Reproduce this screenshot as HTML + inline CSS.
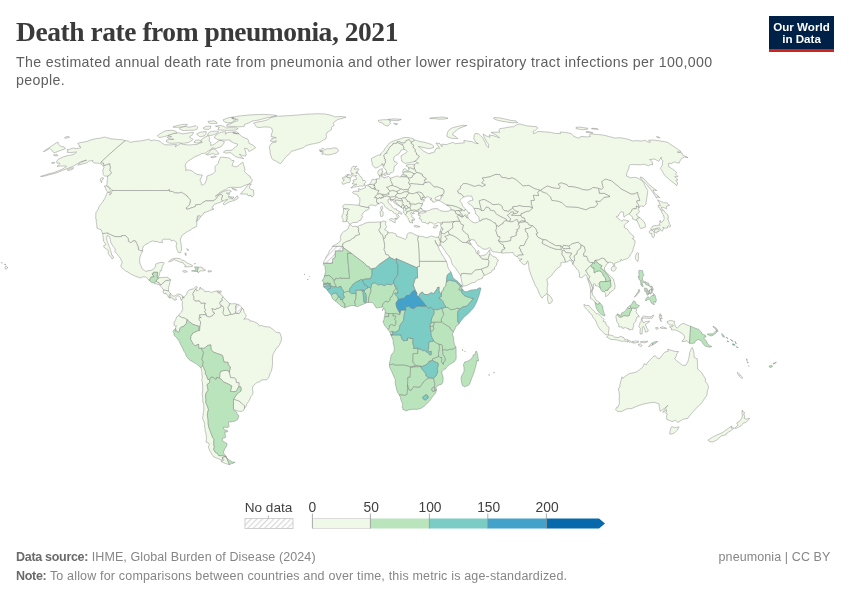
<!DOCTYPE html>
<html lang="en"><head><meta charset="utf-8"><title>Death rate from pneumonia, 2021</title>
<style>
html,body{margin:0;padding:0;background:#fff;}
body{width:850px;height:600px;position:relative;overflow:hidden;font-family:"Liberation Sans",Arial,sans-serif;color:#5b5b5b;}
#title{position:absolute;left:16px;top:17.5px;font-family:"Liberation Serif","DejaVu Serif",serif;font-weight:bold;font-size:27.5px;line-height:28px;color:#3a3a3a;white-space:nowrap;letter-spacing:-0.45px;}
#sub{position:absolute;left:16px;top:52.5px;font-size:14.2px;line-height:18.3px;color:#5f5f5f;white-space:nowrap;letter-spacing:0.369px;}
#logo{position:absolute;left:769px;top:16px;width:65px;height:36px;background:#002147;border-bottom:3px solid #ce261e;box-sizing:border-box;color:#fff;font-weight:bold;font-size:11.6px;line-height:12px;text-align:center;padding-top:4.6px;}
#map{position:absolute;left:0;top:0;}
.leg{position:absolute;font-size:13.8px;color:#3f3f3f;line-height:16px;white-space:nowrap;top:499.9px;text-align:center;width:60px;}
.foot{position:absolute;left:16px;font-size:12.5px;line-height:16px;color:#868686;white-space:nowrap;letter-spacing:0.1px;}
.foot b{color:#6a6a6a;letter-spacing:-0.3px;}
</style></head><body>
<svg id="map" width="850" height="600" viewBox="0 0 850 600">
<defs><pattern id="hatch" patternUnits="userSpaceOnUse" width="4" height="4" patternTransform="rotate(45)"><rect width="4" height="4" fill="#fff"/><line x1="0.5" y1="0" x2="0.5" y2="4" stroke="#d9d9d9" stroke-width="1.4"/></pattern></defs>
<g stroke="#6e6e6e" stroke-width="0.4" stroke-linejoin="round">
<g fill="#f0f9e8">
<path d="M332.6,246.4 333.3,245.7 335.3,244.7 337.4,243.6 339.7,241.8 340.9,239.2 340.4,238.6 340.5,236.3 341.7,233.6 343.5,231.8 345.5,230.7 347.3,229.7 348.5,227.6 349.4,224.9 350.7,224.7 352.6,226.5 355.7,226.2 357.5,226.8 358.6,228.3 358.5,231.5 359.6,233.6 359.4,234.7 357.5,235.2 355.6,235.7 354.3,237.8 352.3,238.6 350.0,240.5 348.3,241.0 346.6,241.5 344.7,242.6 342.8,243.6 342.8,246.4 340.2,246.4 337.7,246.4 335.1,246.4Z"/>
<path d="M446.4,261.3 447.2,263.9 447.9,267.1 449.2,269.7 450.9,271.8 449.6,273.0 448.3,274.3 447.3,275.1 446.9,277.3 446.6,279.5 446.4,281.7 446.1,283.8 445.8,285.8 443.5,288.2 443.4,290.3 441.8,291.4 441.4,294.3 440.9,294.3 439.0,291.1 439.0,289.1 439.1,287.1 437.2,287.7 437.3,288.5 435.5,291.0 433.7,293.6 430.9,292.7 429.3,293.9 427.2,294.6 424.0,294.3 422.3,291.9 420.0,293.5 418.5,296.6 416.8,295.6 417.0,293.2 415.3,290.5 414.5,288.2 413.6,285.8 412.9,285.9 414.0,282.7 414.2,281.9 414.8,279.9 415.3,277.9 417.6,277.9 417.5,274.6 417.4,271.2 417.2,267.9 417.2,266.6 419.5,266.6 419.4,263.9 419.3,261.3 422.7,261.3 426.1,261.3 429.5,261.3 432.9,261.3 436.2,261.3 439.6,261.3 443.0,261.3Z"/>
<path d="M440.4,241.5 440.0,243.0 439.8,245.2 439.4,246.2 437.1,244.7 436.1,242.8 435.1,240.3 435.6,242.8 437.7,245.7 438.7,248.1 439.8,250.5 440.6,252.1 442.4,255.0 443.2,256.3 444.8,258.8 446.4,261.3 443.0,261.3 439.6,261.3 436.2,261.3 432.9,261.3 429.5,261.3 426.1,261.3 422.7,261.3 419.3,261.3 419.1,257.5 419.0,253.7 418.8,249.9 418.6,246.1 418.3,242.3 417.5,239.7 418.3,236.0 420.6,236.3 422.8,236.5 424.8,237.2 426.7,237.8 428.9,237.0 429.9,236.4 431.2,236.0 433.0,236.3 434.2,236.9 435.8,237.3 437.6,237.3 438.5,236.8 439.5,239.2Z"/>
<path d="M440.7,241.5 440.4,241.5 439.5,239.2 438.5,236.8 439.0,236.0 439.5,234.8 439.7,232.8 439.9,232.0 441.1,231.6 441.5,233.0 441.1,233.9 441.3,236.3 441.0,238.9Z"/>
<path d="M460.8,276.1 459.5,273.7 457.7,271.3 456.4,269.3 455.0,267.4 453.0,265.3 451.6,262.6 450.8,259.2 448.7,255.9 446.6,253.4 444.8,250.5 442.5,247.3 441.5,245.5 440.1,245.3 440.5,244.2 440.7,241.5 443.2,242.3 446.1,240.2 447.1,238.9 444.6,236.3 446.8,235.6 448.9,234.9 449.3,234.5 452.0,235.1 454.1,236.2 456.1,237.3 459.3,239.8 462.5,242.3 464.6,242.4 466.7,242.6 468.7,242.8 469.4,244.1 471.0,244.0 471.3,244.4 472.1,246.3 474.1,248.1 475.6,250.2 475.9,252.1 477.5,254.0 478.4,254.4 479.4,255.4 482.0,258.8 485.0,259.1 488.0,259.5 489.2,261.3 488.7,263.9 488.1,266.6 485.9,267.5 483.7,268.3 481.5,269.2 478.2,269.7 474.9,270.3 473.2,272.2 471.5,274.2 468.9,274.0 466.4,273.7 463.8,273.4 461.6,273.7Z"/>
<path d="M484.4,275.4 482.5,276.9 482.6,278.2 480.5,279.0 478.0,279.8 476.4,281.1 474.7,282.4 472.2,282.7 469.7,284.0 468.0,284.8 466.3,285.6 464.0,286.1 462.8,285.9 462.0,282.7 461.2,279.0 460.8,276.1 461.6,273.7 463.8,273.4 466.4,273.7 468.9,274.0 471.5,274.2 473.2,272.2 474.9,270.3 478.2,269.7 481.5,269.2 482.9,272.3Z"/>
<path d="M490.1,253.5 491.7,255.5 493.6,256.7 495.5,257.1 497.3,259.5 498.5,260.0 496.9,262.9 496.3,265.5 494.4,267.4 494.5,269.3 492.1,270.3 491.5,272.1 489.1,273.2 486.7,274.5 484.4,275.4 482.9,272.3 481.5,269.2 483.7,268.3 485.9,267.5 488.1,266.6 488.7,263.9 489.2,261.3 488.0,259.5 488.5,257.5 489.0,255.5 489.5,254.0Z"/>
<path d="M479.4,255.4 479.9,256.0 482.6,255.6 485.7,254.8 487.5,252.7 489.1,250.6 489.8,249.8 489.7,251.8 490.1,253.5 489.5,254.0 489.0,255.5 488.5,257.5 488.0,259.5 485.0,259.1 482.0,258.8Z"/>
<path d="M477.5,254.0 477.3,252.1 478.1,250.4 478.7,250.9 479.2,252.9 478.4,254.4Z"/>
<path d="M470.0,240.4 469.6,240.5 469.1,241.8 469.7,241.8 470.2,242.8 471.0,244.0 469.4,244.1 468.7,242.8 466.7,242.6 467.5,241.0 468.9,240.0 469.8,240.2Z"/>
<path d="M470.9,240.3 470.0,240.4 469.8,240.2 468.9,240.0 467.5,241.0 466.7,242.6 464.6,242.4 462.5,242.3 459.3,239.8 456.1,237.3 454.1,236.2 452.0,235.1 449.3,234.5 448.0,231.3 450.4,229.4 452.8,227.6 452.6,225.4 452.4,223.3 454.5,221.5 456.9,221.1 459.8,221.4 461.6,224.4 463.6,224.9 463.0,227.3 462.4,229.7 464.4,232.0 466.3,233.5 468.2,234.9 468.6,237.6 469.5,239.0Z"/>
<path d="M501.8,252.9 499.5,252.6 497.6,252.3 495.6,252.1 493.0,251.7 491.4,250.8 490.6,248.4 489.2,247.7 487.7,248.6 485.8,249.4 482.8,248.9 480.8,247.1 477.9,245.7 476.2,242.8 474.3,239.9 472.9,239.9 471.5,239.4 470.9,240.3 469.5,239.0 468.6,237.6 468.2,234.9 466.3,233.5 464.4,232.0 462.4,229.7 463.0,227.3 463.6,224.9 461.6,224.4 459.8,221.4 458.1,218.1 457.2,216.5 457.9,215.5 458.6,214.7 460.4,216.5 461.9,216.9 462.8,216.8 465.3,214.7 466.3,215.5 465.9,217.0 468.1,218.0 471.0,220.8 473.5,222.6 475.7,222.8 477.8,222.2 479.5,220.8 481.4,220.6 482.3,219.0 484.3,218.9 486.3,218.5 488.7,219.5 491.1,220.4 493.8,222.7 495.5,222.8 496.4,225.4 496.5,228.3 495.9,230.5 496.8,233.4 497.7,236.3 499.6,236.5 500.1,238.1 498.4,240.6 501.3,244.0 503.4,244.8 503.8,247.3 505.0,247.6 504.9,248.9 502.1,250.0Z"/>
<path d="M517.3,256.8 515.4,256.0 513.5,253.8 512.9,252.3 510.7,252.6 508.6,252.9 506.1,252.7 503.5,253.1 501.8,252.9 502.1,250.0 504.9,248.9 505.0,247.6 503.8,247.3 503.4,244.8 501.3,244.0 498.4,240.6 500.4,241.2 502.3,241.8 504.0,241.7 505.6,241.5 508.1,241.0 510.6,240.5 510.8,237.0 513.2,236.5 514.7,235.9 516.3,235.2 516.0,232.0 517.6,231.2 516.4,229.7 518.8,228.7 519.2,225.7 517.9,224.1 520.3,222.3 522.5,222.0 524.7,221.6 527.8,222.7 529.0,224.9 530.9,225.3 532.8,225.7 531.3,227.0 529.1,228.3 527.0,228.6 525.0,228.9 525.9,231.8 527.3,233.0 527.8,235.1 528.3,237.3 526.4,240.3 525.2,243.0 524.0,245.6 522.3,245.5 520.6,245.5 519.0,248.1 520.8,249.2 520.8,251.0 522.1,253.0 523.4,255.0 520.9,255.1 518.4,255.2Z"/>
<path d="M565.5,262.1 563.5,262.4 562.5,262.1 560.8,262.9 561.1,264.7 560.5,265.8 560.0,266.7 558.3,267.8 556.6,268.9 555.1,270.8 553.6,272.6 551.6,275.5 549.1,277.6 546.9,279.2 547.2,281.1 547.9,284.8 547.1,287.9 547.2,290.0 547.4,292.1 545.8,294.8 543.6,296.1 542.3,298.0 540.9,296.9 539.1,293.1 537.8,289.6 536.5,287.5 535.2,285.3 533.8,281.9 532.3,278.4 531.6,276.5 530.8,274.5 530.0,271.8 529.1,269.2 528.8,266.3 528.5,263.4 527.7,260.8 526.7,262.1 526.9,263.4 524.5,264.7 523.1,264.2 521.1,262.4 519.3,260.5 520.0,260.5 522.1,258.9 519.4,259.2 518.5,257.9 517.3,256.8 518.4,255.2 520.9,255.1 523.4,255.0 522.1,253.0 520.8,251.0 520.8,249.2 519.0,248.1 520.6,245.5 522.3,245.5 524.0,245.6 525.2,243.0 526.4,240.3 528.3,237.3 527.8,235.1 527.3,233.0 525.9,231.8 525.0,228.9 527.0,228.6 529.1,228.3 531.3,227.0 532.8,225.7 536.0,228.9 536.9,231.5 538.1,233.0 536.1,233.6 537.6,236.8 538.8,237.6 541.0,238.6 543.3,239.7 542.0,243.2 544.7,244.6 547.3,245.9 550.0,247.2 553.0,248.2 556.0,249.2 558.6,249.4 561.3,249.7 560.9,247.7 560.6,245.7 562.6,247.3 563.1,248.6 565.4,248.6 567.7,248.6 570.1,248.5 568.6,246.1 570.4,244.9 572.2,243.6 574.2,243.1 576.2,242.6 578.1,242.1 581.1,244.8 581.0,247.9 579.3,249.3 577.5,250.8 576.8,254.2 574.2,255.9 574.4,258.3 574.7,260.8 573.4,261.4 570.7,258.8 569.5,256.8 571.7,253.3 568.7,252.9 565.8,252.6 564.3,250.2 562.1,250.8 562.2,252.7 562.2,254.7 564.5,258.1 565.0,260.1Z"/>
<path d="M573.2,264.7 572.2,262.9 571.4,260.5 569.1,260.2 568.2,261.6 565.5,262.1 565.0,260.1 564.5,258.1 562.2,254.7 562.2,252.7 562.1,250.8 564.3,250.2 565.8,252.6 568.7,252.9 571.7,253.3 569.5,256.8 570.7,258.8 573.4,261.4Z"/>
<path d="M590.8,293.0 590.7,290.6 590.4,288.6 590.1,286.6 589.4,284.4 588.7,282.1 587.5,279.2 586.8,275.8 585.3,274.5 583.7,276.1 581.8,277.8 579.4,277.1 579.4,273.7 578.6,270.8 577.0,269.2 574.8,266.3 573.2,264.7 573.4,261.4 574.7,260.8 574.4,258.3 574.2,255.9 576.8,254.2 577.5,250.8 579.3,249.3 581.0,247.9 581.1,244.8 584.3,246.5 584.9,248.8 585.5,251.0 583.7,253.4 583.9,256.2 586.4,256.0 587.5,258.3 588.4,261.0 590.4,262.5 593.1,262.5 591.1,265.6 588.8,267.1 586.4,270.3 585.7,270.5 586.9,272.5 588.1,274.5 589.9,276.3 588.6,279.2 590.1,281.9 591.5,284.5 592.8,288.2 591.1,291.9Z"/>
<path d="M594.9,302.3 593.4,300.3 592.2,299.3 590.5,298.6 590.4,295.6 590.8,293.0 591.1,291.9 592.8,288.2 591.5,284.5 590.1,281.9 588.6,279.2 589.9,276.3 588.1,274.5 586.9,272.5 585.7,270.5 586.4,270.3 588.8,267.1 591.1,265.6 592.4,267.9 594.0,267.9 594.1,270.4 594.3,272.9 596.6,271.3 599.5,270.8 602.8,273.2 603.3,275.8 605.3,277.6 606.0,281.5 605.1,281.5 602.5,281.7 600.0,281.9 599.0,283.4 599.8,286.0 600.5,288.6 599.0,287.1 597.4,285.9 595.6,285.9 595.6,284.5 594.4,283.7 593.3,284.0 593.5,286.1 593.3,288.2 592.2,291.6 592.6,295.0 594.6,297.2 596.0,300.3 597.7,301.1 599.7,302.7 599.6,302.8 599.0,304.0 597.3,304.3 596.9,304.0Z"/>
<path d="M608.7,262.5 607.5,263.9 606.3,264.5 606.0,265.8 604.6,267.1 604.6,269.7 605.2,270.8 607.2,273.2 609.8,275.5 611.5,276.9 613.3,279.0 613.9,280.9 614.5,282.9 615.1,286.3 614.6,289.0 612.7,290.6 610.5,292.0 609.8,292.1 609.1,294.3 606.9,296.1 605.5,296.6 605.7,293.2 604.2,291.8 605.7,290.4 607.8,290.3 608.6,288.5 610.9,286.7 610.7,283.6 610.4,280.5 609.7,278.2 607.2,274.6 605.3,272.3 603.5,270.0 600.4,268.2 602.1,265.8 599.6,264.5 597.0,262.1 595.0,260.2 597.1,260.0 599.1,259.7 601.8,257.9 604.9,258.9 606.3,261.6Z"/>
<path d="M629.3,214.0 627.5,214.5 625.7,215.7 624.0,217.2 623.6,215.5 623.6,212.3 620.9,211.8 619.1,214.1 618.5,216.0 616.2,216.5 617.7,218.3 620.2,219.7 621.6,221.2 623.4,219.9 625.9,220.2 629.0,221.2 626.9,222.6 625.3,224.3 624.2,225.4 624.4,227.6 627.2,228.9 628.7,231.1 630.2,233.4 633.3,235.7 634.0,237.8 632.3,238.6 635.1,240.5 635.0,242.8 634.2,245.5 633.4,248.1 632.7,250.8 631.8,252.6 630.2,254.7 629.8,256.0 627.4,258.7 625.7,259.1 624.1,259.5 622.5,260.5 620.9,259.2 621.0,260.8 619.9,261.3 617.1,262.4 614.3,263.4 614.8,265.3 613.6,265.8 613.0,264.2 612.6,262.9 611.2,262.6 610.0,262.1 608.7,262.5 606.3,261.6 604.9,258.9 601.8,257.9 599.1,259.7 597.1,260.0 595.0,260.2 594.5,263.5 593.1,262.5 590.4,262.5 588.4,261.0 587.5,258.3 586.4,256.0 583.9,256.2 583.7,253.4 585.5,251.0 584.9,248.8 584.3,246.5 581.1,244.8 578.1,242.1 576.2,242.6 574.2,243.1 572.2,243.6 570.4,244.9 568.6,246.1 566.0,245.7 563.5,245.2 562.6,247.3 560.6,245.7 558.2,245.7 555.7,245.6 553.5,244.4 551.2,243.2 548.6,241.6 546.0,239.9 543.3,239.7 541.0,238.6 538.8,237.6 537.6,236.8 536.1,233.6 538.1,233.0 536.9,231.5 536.0,228.9 532.8,225.7 530.9,225.3 529.0,224.9 527.8,222.7 524.7,221.6 525.2,221.1 524.2,218.0 521.8,217.6 520.8,215.3 521.0,213.6 522.6,213.1 524.1,212.6 526.3,211.4 529.2,211.0 530.9,209.6 532.5,208.1 531.7,205.5 531.3,203.1 530.8,200.6 532.6,200.5 534.3,200.3 533.8,197.7 533.2,195.2 535.9,195.4 538.5,195.6 537.6,192.1 538.8,191.2 540.0,190.3 540.8,190.1 541.9,191.6 544.3,192.5 546.8,193.4 550.4,196.7 551.8,200.3 554.6,200.7 557.5,201.0 559.9,201.8 562.2,202.7 564.2,204.7 566.2,206.7 568.7,206.8 571.3,206.9 573.9,207.0 575.9,207.2 577.9,207.4 580.5,208.1 583.1,208.9 585.8,209.7 587.9,208.7 590.1,207.6 592.6,207.3 595.1,207.0 596.4,205.6 597.7,204.2 595.6,200.9 597.7,201.2 599.8,201.5 601.7,199.8 602.8,198.7 603.8,197.5 605.8,197.1 607.9,196.8 610.0,196.5 607.1,194.9 604.2,193.4 601.7,193.4 599.3,193.4 598.9,190.9 598.4,188.4 601.4,189.1 603.1,187.7 602.6,185.7 602.1,183.7 601.6,181.4 603.6,180.2 605.5,179.0 608.6,179.9 611.7,180.9 615.6,184.1 619.5,187.2 620.6,188.5 624.1,190.3 627.5,192.1 631.0,193.9 632.6,193.8 634.2,193.8 635.9,193.0 637.6,192.2 638.2,195.2 639.1,197.9 639.9,200.6 638.3,200.7 636.8,200.9 637.3,203.4 638.9,205.0 639.0,207.5 636.4,206.0 636.3,208.7 634.1,208.7 632.2,209.3 631.4,211.4 630.3,212.7Z"/>
<path d="M636.5,220.3 634.9,219.9 632.4,218.9 632.7,217.3 630.5,215.1 629.3,214.0 630.3,212.7 631.4,211.4 632.2,209.3 634.1,208.7 636.3,208.7 636.4,206.0 639.0,207.5 639.2,207.7 638.3,209.2 639.4,211.5 637.9,213.9 636.4,214.4 637.0,216.0 639.7,217.6 637.6,218.3 636.9,219.3Z"/>
<path d="M639.7,217.6 640.7,218.6 643.9,221.5 645.3,224.4 645.5,226.8 644.7,227.3 643.0,227.8 640.8,228.7 640.0,227.6 638.9,224.5 637.9,222.8 637.3,220.6 636.5,220.3 636.9,219.3 637.6,218.3Z"/>
<path d="M415.9,140.1 417.3,140.7 418.8,141.3 420.8,141.7 422.9,142.0 425.0,142.4 427.6,143.2 430.3,144.1 431.7,144.4 433.6,146.0 433.6,147.6 432.0,148.0 430.4,148.4 428.8,148.7 426.9,148.3 425.0,147.8 423.1,147.4 420.7,146.9 418.3,146.4 421.1,148.9 423.9,151.3 425.6,152.2 427.4,153.1 429.9,153.8 430.1,153.1 432.2,152.7 434.3,152.2 435.3,150.1 436.4,148.0 438.0,148.2 439.6,148.3 438.5,146.7 437.2,144.8 435.9,143.0 437.9,143.3 440.0,143.7 442.0,146.7 441.9,144.2 444.1,144.4 446.3,144.6 447.8,144.1 449.3,143.5 451.1,143.0 453.0,142.4 455.3,143.7 456.9,143.5 458.5,143.3 460.1,143.1 462.2,143.0 464.3,142.8 463.8,140.4 465.9,140.7 467.9,141.1 470.0,141.4 472.1,141.7 473.8,142.5 475.6,143.3 477.0,143.5 478.4,143.7 475.8,142.2 474.8,140.5 473.8,138.9 474.0,137.2 474.1,135.6 474.6,134.5 475.1,133.5 476.9,133.7 478.6,133.9 480.7,135.8 482.7,137.8 483.9,140.0 485.1,142.2 485.7,143.8 486.3,145.5 488.4,147.6 488.7,144.4 486.8,142.2 485.4,139.4 483.9,136.7 483.2,133.9 485.6,135.6 487.8,136.5 490.1,137.3 489.2,135.0 491.0,135.3 492.9,135.6 495.1,136.3 497.3,137.0 499.5,137.8 497.0,135.6 494.1,134.0 491.2,132.4 493.1,132.3 495.0,132.2 496.6,132.2 498.2,132.2 499.8,132.2 498.9,130.3 499.3,129.5 499.7,128.7 501.5,128.4 503.3,128.2 505.0,127.9 506.3,127.6 507.6,127.3 508.8,127.1 510.4,126.9 512.1,126.8 513.7,126.7 514.8,126.0 515.8,125.3 516.9,124.8 518.0,124.3 519.1,123.9 521.8,124.5 524.5,125.2 527.3,125.9 529.6,126.1 532.0,126.3 534.4,126.5 536.8,126.7 537.9,128.1 537.2,128.8 536.5,129.4 535.7,130.1 534.5,130.7 533.2,131.4 533.3,132.5 533.4,133.7 534.5,133.3 535.7,132.8 536.8,132.1 538.0,131.4 540.2,131.6 542.5,131.8 544.8,131.9 547.1,132.1 549.4,132.2 551.5,132.6 553.6,133.0 555.7,133.5 557.3,133.5 558.9,133.5 560.5,133.5 560.3,132.0 562.1,132.1 563.8,132.3 565.6,132.4 568.4,133.0 571.3,133.7 572.9,135.6 575.9,137.3 577.6,137.8 579.4,138.2 580.0,137.3 580.5,136.5 582.9,136.6 585.3,136.8 587.7,136.9 589.0,136.7 590.4,136.5 589.4,134.5 590.2,134.2 591.0,133.9 593.1,134.1 595.3,134.3 597.5,134.5 599.4,134.7 601.2,134.8 603.0,135.0 606.3,135.8 609.6,136.7 612.2,137.3 614.7,138.0 616.6,137.9 618.4,137.8 620.2,137.8 622.4,138.1 624.6,138.5 626.8,138.9 630.1,140.0 633.3,141.1 634.7,140.8 636.1,140.6 638.0,140.8 639.9,140.9 641.8,141.1 643.2,140.6 644.6,140.2 648.5,142.2 650.5,142.2 648.5,140.2 650.3,140.1 652.1,140.1 653.9,140.2 655.7,140.3 657.9,140.6 660.1,141.0 662.3,141.3 664.7,141.7 667.1,142.1 671.8,145.2 676.5,148.3 681.1,151.5 680.3,151.9 679.4,152.2 677.2,151.9 679.5,152.4 681.9,152.9 682.8,155.2 688.1,157.6 686.3,157.4 684.5,157.1 683.4,157.7 682.4,158.2 681.3,158.8 680.7,159.8 680.1,160.7 679.6,162.0 679.2,163.2 676.7,162.6 674.2,161.9 673.0,162.6 671.7,163.4 670.1,163.4 668.5,163.4 668.4,164.3 668.8,166.8 671.7,168.5 674.2,170.4 676.6,172.4 676.1,173.3 675.6,174.1 678.0,176.6 676.4,176.6 674.7,176.6 678.0,179.9 675.9,180.4 677.6,182.9 677.3,184.3 676.9,185.7 675.2,184.2 671.1,180.9 667.4,177.9 664.9,175.4 663.1,172.9 661.8,170.4 660.3,168.5 661.3,166.9 662.3,165.3 662.4,163.7 662.5,162.2 662.9,160.9 661.1,159.0 661.3,157.1 660.6,158.2 659.9,159.3 659.4,160.4 658.8,161.4 654.7,159.0 653.0,159.2 651.3,159.4 649.6,159.5 652.4,161.9 652.6,163.5 652.7,165.0 651.0,164.3 649.9,165.0 648.9,165.8 646.4,165.0 644.0,164.2 642.1,164.5 640.3,164.8 637.6,164.7 635.0,164.6 632.6,164.6 630.3,164.7 629.3,165.5 629.0,167.0 628.8,168.5 628.2,169.9 627.6,171.4 627.0,172.4 626.7,174.3 626.5,176.1 628.7,177.0 630.9,177.9 632.4,177.6 633.8,177.4 636.0,177.4 638.5,178.6 641.1,179.9 643.5,182.4 644.6,184.8 645.7,187.2 647.8,190.5 647.6,192.7 647.3,194.9 647.0,196.8 646.7,198.8 646.1,202.4 646.1,204.0 644.8,205.3 643.5,206.6 640.7,205.8 639.2,207.7 639.0,207.5 638.9,205.0 637.3,203.4 636.8,200.9 638.3,200.7 639.9,200.6 639.1,197.9 638.2,195.2 637.6,192.2 635.9,193.0 634.2,193.8 632.6,193.8 631.0,193.9 627.5,192.1 624.1,190.3 620.6,188.5 619.5,187.2 615.6,184.1 611.7,180.9 608.6,179.9 605.5,179.0 603.6,180.2 601.6,181.4 602.1,183.7 602.6,185.7 603.1,187.7 601.4,189.1 598.4,188.4 595.7,187.9 592.9,187.4 591.3,189.0 589.4,189.6 587.4,190.2 585.0,189.9 582.6,189.6 580.6,188.8 578.6,188.0 576.2,187.5 573.9,187.0 571.1,186.7 568.2,186.5 566.9,184.7 564.1,183.8 561.3,182.9 559.8,183.5 558.2,184.2 560.3,186.7 559.3,188.6 556.3,188.3 553.3,188.0 550.2,187.0 547.2,186.0 545.5,187.1 543.7,188.2 542.3,189.2 540.8,190.1 540.0,190.3 537.1,189.3 535.0,189.0 531.9,187.2 528.9,185.4 526.9,185.6 525.0,185.8 523.1,186.0 519.5,182.8 515.9,179.6 512.3,177.9 510.1,178.4 507.9,178.9 506.2,177.9 503.9,177.6 501.7,177.4 499.8,174.6 497.9,174.5 496.0,174.4 493.9,175.2 491.8,176.0 489.7,176.9 487.3,177.3 484.8,177.6 482.3,178.0 484.0,180.4 482.9,181.6 481.8,182.9 483.8,183.9 485.7,184.9 484.0,185.8 482.3,186.6 479.2,185.2 476.8,185.8 474.4,186.5 471.7,185.4 469.3,184.6 466.9,183.7 465.3,183.6 463.7,183.5 462.1,185.0 460.5,186.5 460.8,188.2 459.2,189.5 457.6,190.8 458.6,193.1 461.2,193.9 463.5,196.5 464.0,197.1 463.7,197.2 461.9,198.3 460.7,199.6 459.8,200.9 460.6,201.9 462.1,204.0 462.6,206.1 465.6,209.0 464.5,210.7 463.1,210.5 461.0,208.9 458.7,207.9 456.4,206.8 454.2,206.2 451.9,205.5 449.3,205.3 446.6,205.0 445.8,204.5 443.8,203.3 441.8,202.0 440.2,201.1 438.6,200.3 440.0,199.9 440.7,198.3 441.5,198.0 440.6,196.6 443.3,195.6 442.4,195.2 441.0,195.4 442.4,194.5 443.7,193.5 444.0,190.9 443.0,189.0 440.4,188.1 437.9,187.1 436.0,187.0 434.1,187.0 431.7,184.5 429.4,182.0 427.5,182.3 425.5,182.7 424.1,180.1 426.4,178.9 424.4,177.4 422.3,175.9 422.4,174.4 420.7,173.7 419.0,173.0 416.5,172.5 415.3,170.9 415.3,169.7 414.3,169.1 414.3,167.5 413.8,166.0 414.5,164.8 414.7,164.4 414.6,164.1 416.3,163.2 418.5,163.2 417.7,162.9 415.3,161.4 413.7,161.8 415.4,160.7 417.1,159.5 418.2,157.8 419.3,156.2 417.7,155.2 416.1,154.3 416.7,153.1 414.9,151.5 415.2,149.7 412.8,146.9 413.7,145.1 410.8,143.3 411.3,142.1 412.9,141.3 414.1,140.4Z"/>
<path d="M58.2,142.4 58.1,144.0 59.0,144.7 59.9,145.5 60.8,146.2 62.4,146.6 64.1,146.9 64.8,147.8 65.5,148.7 61.4,150.1 58.4,151.3 55.5,152.4 54.0,152.9 53.2,152.0 52.4,151.0 51.7,150.1 50.6,149.3 49.6,148.5 44.7,151.3 43.5,151.5 48.1,148.3 52.8,145.2 57.5,142.1Z"/>
<path d="M383.3,165.3 382.7,165.3 382.2,163.4 381.8,165.0 380.2,165.8 378.8,166.7 377.4,167.6 375.7,168.0 374.8,167.7 373.0,165.7 372.2,164.8 372.1,162.2 371.5,160.7 371.4,158.6 373.2,157.6 375.0,156.7 376.3,156.0 377.6,155.2 379.3,155.1 381.0,154.9 380.2,154.3 382.2,152.4 384.3,150.1 385.0,148.5 387.2,146.0 388.0,144.4 389.5,143.1 390.7,142.4 391.9,141.7 393.0,141.2 394.2,140.6 396.2,140.1 398.2,139.5 399.8,139.0 401.3,138.4 403.1,137.9 404.9,137.4 406.5,137.5 408.0,137.6 410.3,138.0 412.2,138.5 414.1,139.1 414.1,140.4 412.9,141.3 411.3,142.1 409.9,140.3 408.9,139.7 407.5,140.2 406.0,140.6 405.7,141.7 404.7,143.1 403.0,143.0 401.4,142.8 398.8,141.5 397.1,142.0 396.4,143.5 394.8,143.4 393.1,143.3 393.0,144.5 391.8,145.4 390.6,146.2 389.2,148.3 387.9,150.6 386.6,152.2 387.5,153.1 385.0,153.6 383.9,155.2 384.3,157.1 384.6,159.0 386.0,159.9 385.0,160.7 385.6,161.9 385.5,162.9 384.3,163.8 384.3,165.5Z"/>
<path d="M404.7,149.4 403.0,149.7 401.3,149.9 400.1,152.0 398.7,154.1 397.3,154.8 395.8,155.5 393.9,157.4 393.6,159.0 394.1,161.4 396.6,162.2 397.5,163.4 396.2,164.8 394.3,166.3 394.0,168.5 393.7,171.2 392.3,172.4 390.6,172.7 389.8,174.4 387.5,174.4 386.8,172.8 386.2,170.7 384.9,168.7 383.4,167.0 383.3,165.3 384.3,165.5 384.3,163.8 385.5,162.9 385.6,161.9 385.0,160.7 386.0,159.9 384.6,159.0 384.3,157.1 383.9,155.2 385.0,153.6 387.5,153.1 386.6,152.2 387.9,150.6 389.2,148.3 390.6,146.2 391.8,145.4 393.0,144.5 393.1,143.3 394.8,143.4 396.4,143.5 397.1,142.0 399.1,143.3 400.9,144.0 402.8,144.6 403.0,146.0 404.0,147.1 403.7,148.5Z"/>
<path d="M413.7,161.8 412.1,162.0 410.4,162.4 408.7,162.8 406.9,163.1 405.1,163.5 403.4,162.2 401.6,161.2 401.7,159.5 401.2,158.3 401.1,155.7 402.3,155.0 403.5,154.3 404.8,153.6 406.0,152.9 407.2,151.3 404.7,149.4 403.7,148.5 404.0,147.1 403.0,146.0 402.8,144.6 400.9,144.0 399.1,143.3 397.1,142.0 398.8,141.5 401.4,142.8 403.0,143.0 404.7,143.1 405.7,141.7 406.0,140.6 407.5,140.2 408.9,139.7 409.9,140.3 411.3,142.1 410.8,143.3 413.7,145.1 412.8,146.9 415.2,149.7 414.9,151.5 416.7,153.1 416.1,154.3 417.7,155.2 419.3,156.2 418.2,157.8 417.1,159.5 415.4,160.7Z"/>
<path d="M408.6,168.3 408.5,167.0 406.5,166.3 406.3,165.0 408.7,164.4 410.2,164.3 411.8,164.2 413.3,164.3 414.7,164.4 414.5,164.8 413.8,166.0 414.3,167.5 414.3,169.1 412.7,169.1 411.6,168.3 410.2,168.0Z"/>
<path d="M402.9,172.7 402.6,171.7 403.3,169.4 405.2,168.6 406.6,170.4 408.3,170.3 408.9,169.9 408.6,168.3 408.6,168.3 410.2,168.0 411.6,168.3 412.7,169.1 414.3,169.1 415.3,169.7 415.3,170.9 416.5,172.5 415.6,173.4 413.7,173.7 411.6,172.5 410.1,171.8 408.3,171.9 406.5,172.0 404.8,171.9Z"/>
<path d="M402.9,174.7 403.1,173.6 402.9,172.7 404.8,171.9 406.5,172.0 408.3,171.9 410.1,171.8 411.6,172.5 413.7,173.7 414.3,174.6 412.5,175.6 412.3,177.1 410.2,178.1 408.4,178.0 406.9,177.0 406.5,175.5 405.1,175.2 403.6,174.8Z"/>
<path d="M400.7,176.8 401.1,176.3 401.2,175.5 402.9,174.7 403.6,174.8 405.1,175.2 406.5,175.5 406.9,177.0 404.8,176.9 402.7,176.8Z"/>
<path d="M390.3,178.1 391.9,177.7 393.6,177.3 395.5,176.3 398.2,176.0 399.4,177.0 400.7,176.8 402.7,176.8 404.8,176.9 406.9,177.0 408.4,178.0 409.5,180.4 409.6,181.1 408.4,182.2 409.6,184.2 410.7,185.8 409.9,187.0 408.3,189.0 408.2,190.3 406.1,189.4 404.6,189.7 403.2,190.0 401.8,189.0 400.5,189.2 398.7,187.9 396.3,186.8 395.1,186.3 394.5,186.5 392.4,185.4 392.0,185.8 392.3,184.7 391.2,181.4 390.4,180.4 390.7,179.6Z"/>
<path d="M381.6,175.9 382.2,176.9 383.6,177.0 383.9,177.9 386.0,177.5 386.5,176.9 388.7,176.5 390.3,178.1 390.7,179.6 390.4,180.4 391.2,181.4 392.3,184.7 392.0,185.8 391.0,185.3 388.5,187.0 386.7,187.2 387.6,188.2 388.7,189.8 390.5,191.1 388.5,192.7 389.0,194.4 387.4,194.0 385.5,194.7 383.9,194.5 381.9,194.3 379.9,193.8 377.9,194.2 377.8,192.3 379.0,190.6 375.9,190.0 375.2,189.3 375.5,188.5 374.7,187.7 375.0,186.7 374.4,186.1 374.5,184.9 374.7,183.3 375.8,183.0 376.3,182.3 376.2,181.3 376.5,179.8 376.3,179.1 376.5,178.8 378.2,178.8 379.0,179.0 379.6,178.1 379.7,177.1 379.1,175.6 380.7,175.8Z"/>
<path d="M381.3,174.3 380.9,174.9 381.6,175.9 380.7,175.8 379.1,175.6 378.0,174.0 377.9,171.7 378.7,170.2 381.2,169.0 382.4,168.6 382.3,169.4 382.0,171.3 383.2,171.8 381.9,172.5 381.5,174.1 381.3,174.1Z"/>
<path d="M381.3,174.3 381.5,174.1 381.5,174.1 382.8,173.9 383.3,174.9 382.3,175.3 381.5,174.9Z"/>
<path d="M381.5,174.1 381.5,174.1 381.3,174.3 381.3,174.1Z"/>
<path d="M369.0,184.5 369.5,184.3 370.3,183.0 371.3,181.8 371.7,180.5 372.2,179.6 374.5,179.4 376.1,179.5 376.3,179.1 376.5,179.8 376.2,181.3 376.3,182.3 375.8,183.0 374.7,183.3 374.5,184.9 374.4,186.1 373.8,186.0 374.0,185.1 372.3,184.3 370.8,184.5Z"/>
<path d="M367.4,185.2 369.0,184.5 370.8,184.5 372.3,184.3 374.0,185.1 373.8,186.0 374.4,186.1 375.0,186.7 374.7,187.7 374.2,187.7 374.1,189.1 372.2,188.5 370.8,188.0 370.6,187.2 368.7,186.1Z"/>
<path d="M358.5,205.1 359.0,204.9 359.8,201.8 359.8,199.3 359.8,197.9 358.2,196.6 357.8,195.0 356.1,194.3 353.5,193.6 352.5,192.1 354.1,191.3 356.2,191.1 359.0,191.4 358.4,188.8 359.7,188.8 359.9,189.6 362.7,188.8 365.5,187.5 365.5,185.8 367.4,185.2 368.7,186.1 370.6,187.2 370.8,188.0 372.2,188.5 374.1,189.1 375.2,189.3 375.9,190.0 379.0,190.6 377.8,192.3 377.9,194.2 376.7,194.8 374.9,197.2 374.7,197.9 376.4,197.2 376.9,198.4 376.5,200.5 377.0,202.8 378.5,203.1 378.1,204.0 377.7,204.2 376.8,204.9 375.3,205.9 373.6,205.3 372.2,205.0 370.1,205.0 368.7,206.0 369.0,207.5 365.9,207.4 363.8,206.7 360.8,206.3Z"/>
<path d="M343.4,209.0 343.4,208.4 342.6,206.3 342.9,205.7 345.5,204.2 347.6,204.6 350.3,204.6 352.3,204.7 354.3,204.8 356.0,205.1 358.5,205.1 360.8,206.3 363.8,206.7 365.9,207.4 369.0,207.5 369.1,207.7 369.1,208.9 367.0,210.2 364.9,211.0 363.6,212.3 361.7,215.2 362.7,217.2 361.2,218.2 360.8,220.2 358.8,220.7 357.5,222.4 355.8,222.4 352.7,222.6 350.6,224.0 350.1,224.4 349.2,223.9 348.6,223.1 348.5,222.3 347.2,221.2 346.2,221.3 347.1,218.6 346.5,218.0 347.2,216.5 346.2,214.8 347.3,214.7 347.6,211.3 349.1,209.7 348.3,208.8 346.7,209.0 345.1,209.2 344.9,208.4Z"/>
<path d="M346.2,221.3 345.1,221.8 342.7,221.7 343.2,219.3 342.4,218.1 341.8,217.1 342.1,215.6 343.2,213.4 343.7,210.9 343.4,209.0 344.9,208.4 345.1,209.2 346.7,209.0 348.3,208.8 349.1,209.7 347.6,211.3 347.3,214.7 346.2,214.8 347.2,216.5 346.5,218.0 347.1,218.6Z"/>
<path d="M390.8,199.2 389.5,199.2 387.9,199.8 388.0,201.1 388.7,203.3 390.7,204.5 392.4,207.4 394.4,208.8 396.7,208.9 396.1,209.7 398.2,210.9 400.8,212.2 402.0,213.5 401.8,214.4 400.9,214.0 398.5,212.7 397.9,214.7 399.3,216.5 398.1,218.1 397.1,219.3 396.2,219.1 397.3,217.2 396.8,215.7 395.9,213.8 394.3,213.2 393.0,212.3 392.8,211.7 391.6,210.7 390.0,210.6 388.4,209.3 387.4,208.5 385.8,207.6 384.6,206.3 384.0,204.7 383.0,203.3 380.9,202.4 379.5,203.6 378.1,204.0 378.5,203.1 377.0,202.8 376.5,200.5 376.9,198.4 378.7,198.4 379.8,197.1 381.0,198.7 381.5,197.2 383.2,197.6 383.9,196.0 385.0,196.2 387.4,195.6 387.9,196.5 390.6,196.9 390.1,197.7 390.5,198.8Z"/>
<path d="M390.8,199.3 390.9,199.2 390.8,199.2 390.5,198.8 390.1,197.7 390.6,196.9 393.3,196.7 395.5,196.0 396.6,197.1 396.0,197.2 394.9,198.7 394.1,199.7 392.5,199.6 390.6,199.6 390.8,199.4 390.8,199.3Z"/>
<path d="M390.8,199.4 390.8,199.3 390.8,199.3Z"/>
<path d="M401.5,207.6 400.6,207.0 399.2,206.0 396.9,204.7 395.7,204.2 394.2,202.7 393.4,201.0 392.1,200.1 391.3,201.4 390.5,200.6 390.6,199.6 392.5,199.6 394.1,199.7 394.9,198.7 396.0,197.2 396.6,197.1 399.0,198.4 401.5,198.5 401.8,199.6 402.7,200.3 402.1,201.2 399.8,200.6 397.5,200.2 395.2,200.3 395.2,201.4 396.3,202.9 398.7,204.9 399.6,205.9 401.4,207.2Z"/>
<path d="M403.5,209.0 402.8,208.4 401.5,207.6 401.4,207.2 401.7,205.5 402.7,204.7 405.3,206.4 404.8,207.2 403.8,207.2Z"/>
<path d="M405.3,214.7 405.0,214.1 403.6,212.8 403.6,212.2 403.8,210.5 403.5,209.0 403.8,207.2 404.8,207.2 406.1,209.0 406.0,210.5 407.1,211.7 406.6,213.6Z"/>
<path d="M418.0,212.0 417.6,211.7 415.9,211.4 414.4,211.5 413.1,211.9 413.5,212.8 414.6,213.5 413.8,214.0 413.1,213.4 412.3,214.0 412.4,213.4 411.4,212.2 410.7,212.7 410.8,213.6 411.5,214.9 412.3,216.0 411.9,216.5 411.7,216.8 412.6,217.4 413.3,217.7 414.4,218.7 414.5,220.1 413.6,219.3 412.5,219.4 413.4,220.7 411.7,220.3 412.4,221.8 412.9,223.2 411.9,222.3 411.2,223.2 410.2,221.9 409.6,222.3 409.3,221.0 408.1,219.5 408.5,218.6 408.0,218.2 407.1,216.6 406.0,215.7 405.3,214.7 406.6,213.6 407.1,211.7 409.0,211.0 411.2,210.4 412.8,210.1 414.5,209.8 416.2,210.6 418.4,209.4 419.0,210.5Z"/>
<path d="M440.9,224.6 440.6,224.3 441.2,222.8 439.4,222.9 437.7,222.3 436.3,223.6 434.1,224.3 432.1,222.9 430.7,222.4 429.0,222.2 428.9,223.7 427.0,223.9 425.8,222.8 423.8,222.2 422.7,222.6 421.9,221.8 421.4,220.8 421.3,219.5 419.5,218.9 419.2,217.8 420.3,217.2 419.8,215.7 420.2,215.1 418.4,215.3 418.4,214.0 418.9,213.5 419.5,213.0 422.1,213.0 424.2,213.0 424.4,212.6 426.2,211.9 424.2,211.3 423.4,211.3 421.0,211.4 419.5,212.8 418.5,213.8 418.4,212.3 418.0,212.0 419.0,210.5 418.4,209.4 420.2,208.4 421.8,208.7 422.4,210.0 424.4,210.7 426.7,210.9 429.2,210.5 431.0,209.3 432.5,209.0 434.1,208.7 436.9,208.6 438.9,209.4 439.8,210.5 442.3,211.1 444.3,211.4 447.1,211.3 448.8,211.1 450.8,209.9 453.0,209.7 455.1,211.0 456.0,213.6 458.6,214.7 457.9,215.5 457.2,216.5 458.1,218.1 459.8,221.4 456.9,221.1 454.5,221.5 452.0,221.9 449.5,222.3 447.3,222.3 445.1,222.3 442.2,222.3 442.5,223.7 441.4,224.4Z"/>
<path d="M441.4,227.9 441.1,227.3 440.6,225.7 440.9,224.6 441.4,224.4 442.5,223.7 442.2,222.3 445.1,222.3 447.3,222.3 449.5,222.3 452.0,221.9 454.5,221.5 452.4,223.3 452.6,225.4 452.8,227.6 450.4,229.4 448.0,231.3 446.0,232.7 443.9,234.1 441.5,233.0 441.1,231.6 441.3,231.5 441.8,230.7 442.9,229.1 442.6,228.3Z"/>
<path d="M439.9,232.0 440.6,229.9 441.4,227.9 442.6,228.3 442.9,229.1 441.8,230.7 441.3,231.5 441.1,231.6Z"/>
<path d="M387.7,231.8 389.5,232.8 391.5,232.6 393.8,233.1 396.0,233.9 396.6,236.3 399.3,237.0 402.4,238.1 405.2,239.4 406.7,238.1 407.0,235.2 406.9,234.4 408.6,233.1 410.1,232.6 411.8,233.0 413.5,233.4 414.0,234.4 416.2,235.2 418.3,236.0 417.5,239.7 418.3,242.3 418.6,246.1 418.8,249.9 419.0,253.7 419.1,257.5 419.3,261.3 419.4,263.9 419.5,266.6 417.2,266.6 417.2,267.9 414.3,266.6 411.3,265.3 408.3,263.9 405.3,262.6 402.4,261.3 399.4,260.0 396.4,258.7 394.6,259.7 392.1,258.5 389.5,257.3 388.4,255.2 385.7,254.4 384.7,250.8 383.8,249.7 384.6,246.8 384.5,244.7 384.0,242.1 383.5,239.4 385.0,237.8 385.2,235.7 387.8,233.9Z"/>
<path d="M380.9,222.0 381.0,222.0 383.6,221.0 384.7,221.2 386.2,221.8 385.4,223.3 385.5,224.9 386.6,226.5 386.0,227.8 384.6,229.9 386.4,230.5 387.7,231.8 387.8,233.9 385.2,235.7 385.0,237.8 383.5,239.4 383.0,237.0 382.4,234.7 380.7,233.6 378.8,230.2 378.9,229.4 380.3,227.8 380.5,225.7 380.2,223.1Z"/>
<path d="M357.5,226.8 359.7,225.4 362.3,224.7 365.1,223.1 367.0,222.7 368.8,222.3 371.0,222.3 373.2,222.3 375.3,222.2 377.3,222.0 379.3,222.0 380.9,222.0 380.2,223.1 380.5,225.7 380.3,227.8 378.9,229.4 378.8,230.2 380.7,233.6 382.4,234.7 383.0,237.0 383.5,239.4 384.0,242.1 384.5,244.7 384.6,246.8 383.8,249.7 384.7,250.8 385.7,254.4 388.4,255.2 389.5,257.3 387.0,259.1 384.4,260.8 381.9,262.6 379.3,264.3 377.5,266.2 375.6,268.0 373.8,268.4 372.0,268.8 369.9,269.2 369.6,267.1 366.4,265.8 364.9,263.7 361.5,261.1 358.1,258.5 354.7,256.0 351.4,253.4 348.5,251.4 345.6,249.3 342.8,247.3 342.8,246.4 342.8,243.6 344.7,242.6 346.6,241.5 348.3,241.0 350.0,240.5 352.3,238.6 354.3,237.8 355.6,235.7 357.5,235.2 359.4,234.7 359.6,233.6 358.5,231.5 358.6,228.3Z"/>
<path d="M107.6,176.4 107.7,176.1 106.1,176.1 104.6,176.1 103.1,174.6 103.2,172.4 102.7,170.4 104.0,167.5 103.0,165.8 102.2,165.0 101.4,164.2 100.3,163.8 99.2,163.5 98.2,163.1 96.3,163.1 94.5,163.1 93.5,162.5 92.6,161.9 92.9,160.5 90.7,160.8 88.6,161.2 86.7,163.1 84.0,163.4 80.8,164.6 77.7,165.0 79.0,163.8 82.1,161.9 84.0,161.2 86.8,160.1 84.1,160.7 80.6,161.9 76.7,164.1 74.5,165.5 71.0,167.2 66.9,168.7 62.6,170.4 59.8,171.5 57.1,172.7 54.0,173.6 51.4,174.3 48.8,174.9 46.7,175.5 44.5,176.1 42.6,176.3 40.6,176.4 42.8,175.8 45.0,175.1 48.1,173.9 50.4,173.4 52.8,172.9 55.5,171.9 58.2,170.9 62.6,169.0 66.6,166.3 64.3,165.9 62.4,166.0 60.4,166.0 58.7,166.2 57.0,166.4 58.4,165.5 59.9,163.2 58.4,163.2 56.9,163.1 56.6,161.7 58.1,159.3 63.3,156.9 67.3,155.7 69.5,155.3 71.8,154.9 74.2,154.1 76.6,152.0 74.5,152.2 72.4,152.4 70.5,152.5 68.7,152.5 67.0,152.2 68.3,150.8 67.6,150.3 66.8,149.9 70.3,149.0 73.8,148.0 74.9,148.4 76.0,148.7 78.2,148.4 80.4,148.0 80.7,146.8 78.9,146.4 79.3,145.3 78.8,144.4 77.7,143.6 80.2,142.5 82.6,142.4 84.9,141.8 87.2,141.3 91.8,139.5 94.2,139.1 96.5,138.6 98.5,138.4 100.4,138.2 104.5,137.0 105.6,137.4 106.7,137.8 107.9,137.9 109.0,138.0 110.0,138.5 111.0,139.0 113.0,139.0 115.0,139.1 116.8,139.3 118.6,139.5 120.5,139.6 122.4,139.7 123.9,140.2 125.3,140.7 121.6,143.7 118.1,146.7 114.5,149.8 111.0,152.9 107.6,156.0 104.2,159.2 100.8,162.4 102.2,162.8 103.6,163.1 103.8,164.4 103.9,165.8 107.4,164.3 109.8,163.6 109.8,164.8 110.1,165.9 110.5,167.0 110.0,170.4 110.8,171.7 111.6,172.9 109.3,175.4Z"/>
<path d="M112.0,190.5 112.1,189.8 111.1,188.8 109.4,187.5 108.0,186.6 106.7,185.7 107.0,183.9 107.1,181.9 107.4,179.6 107.5,177.1 107.6,176.4 109.3,175.4 111.6,172.9 110.8,171.7 110.0,170.4 110.5,167.0 110.1,165.9 109.8,164.8 109.8,163.6 107.4,164.3 103.9,165.8 103.8,164.4 103.6,163.1 102.2,162.8 100.8,162.4 104.2,159.2 107.6,156.0 111.0,152.9 114.5,149.8 118.1,146.7 121.6,143.7 125.3,140.7 126.8,140.8 128.3,141.0 129.2,141.6 130.2,142.3 132.3,141.9 134.5,141.5 136.4,141.3 138.3,141.2 140.3,140.9 142.3,140.6 143.9,140.3 145.6,140.0 147.4,139.5 149.1,139.1 149.8,140.0 150.4,140.8 152.2,140.4 153.9,140.0 155.4,140.2 156.8,140.4 158.4,140.8 160.0,141.3 161.1,142.3 162.2,143.3 163.5,144.0 164.8,144.8 167.0,144.8 169.2,144.9 171.4,144.8 173.7,144.6 175.1,144.5 176.5,144.4 175.1,146.9 177.9,145.2 180.7,143.5 182.0,144.0 183.3,144.4 185.3,144.6 187.2,144.9 188.5,144.9 189.8,144.9 191.6,144.8 193.4,144.6 195.1,144.6 196.8,144.6 199.1,143.3 200.8,142.8 202.4,142.4 201.1,141.5 201.5,139.5 204.5,137.3 208.0,135.6 209.1,136.3 209.3,137.3 209.6,138.4 209.1,141.1 209.9,141.6 210.7,142.2 210.7,143.8 210.7,145.5 212.4,145.0 214.1,144.4 216.3,142.6 218.5,140.8 220.0,140.6 221.4,140.4 222.9,141.1 224.4,141.7 223.8,143.3 222.5,145.0 221.2,146.7 218.9,147.5 216.6,148.3 215.3,148.3 214.0,148.3 212.0,147.8 211.7,149.0 208.7,150.8 205.3,153.1 203.4,153.4 201.4,153.6 199.0,155.2 195.6,156.4 192.1,158.6 188.8,160.7 186.0,163.1 185.1,166.1 186.1,168.0 185.5,170.4 187.1,170.1 188.7,169.8 190.3,170.3 191.9,170.8 193.2,171.9 194.9,173.1 196.7,174.3 198.0,174.5 199.3,174.8 200.8,174.9 202.4,175.1 201.1,177.9 200.0,180.4 201.2,182.4 201.2,184.4 202.3,185.1 203.8,184.2 205.1,183.4 206.1,180.9 206.8,178.6 206.8,176.3 208.2,175.6 210.5,174.8 212.7,173.9 215.4,171.4 215.0,169.2 215.1,166.3 218.5,163.1 218.6,161.4 219.5,159.8 220.2,157.6 221.7,157.0 223.8,157.3 225.9,157.6 227.6,157.8 229.3,158.1 230.7,159.2 231.7,160.4 234.1,160.7 232.9,163.1 232.0,165.5 234.2,166.5 236.3,166.8 238.5,165.8 240.0,164.1 242.9,162.3 243.5,164.3 244.2,166.8 244.8,169.0 244.6,171.7 246.1,173.1 247.8,174.9 249.0,175.6 250.3,176.4 250.2,177.9 252.3,179.6 251.7,181.9 250.8,182.9 248.1,184.3 246.3,184.9 244.5,185.4 241.3,187.2 239.4,187.4 237.6,187.5 235.4,187.4 233.2,187.2 230.7,187.4 228.3,187.5 225.9,189.5 223.6,190.3 221.6,191.5 219.6,192.7 218.1,194.1 215.3,196.2 216.9,195.7 219.7,193.6 222.3,192.1 224.1,191.4 225.8,190.8 227.5,190.4 229.2,190.0 231.4,191.3 228.5,193.1 226.3,193.0 227.4,193.9 229.6,193.6 228.5,195.7 228.7,197.7 229.9,198.5 232.0,198.9 234.5,199.0 236.2,196.7 237.7,195.9 238.2,198.3 237.0,199.0 235.2,200.1 232.9,200.9 231.1,201.4 229.3,201.9 227.0,203.2 224.3,204.9 223.1,204.0 224.6,201.9 227.1,200.1 227.9,199.6 227.6,199.0 224.7,200.2 222.3,201.2 221.8,200.1 221.4,199.0 222.6,195.6 221.8,194.8 220.0,194.5 217.7,196.5 216.4,198.5 214.9,199.8 213.1,200.9 210.6,200.9 208.2,200.9 205.8,200.9 202.3,202.9 200.7,204.4 198.1,204.6 195.5,204.9 195.6,205.4 195.3,206.6 192.5,207.5 189.6,208.5 186.8,209.4 186.1,207.9 188.3,206.0 189.5,204.5 190.0,202.3 190.4,200.1 189.1,198.3 187.5,197.0 187.1,195.9 185.3,194.7 183.4,193.5 181.5,192.3 178.7,193.1 176.8,193.0 174.9,193.0 173.7,192.3 172.5,191.6 170.9,191.4 169.4,191.3 169.2,189.5 168.6,190.5 165.7,190.5 162.7,190.5 159.7,190.5 156.7,190.5 153.7,190.5 150.7,190.5 147.8,190.5 144.8,190.5 141.8,190.5 138.8,190.5 135.8,190.5 132.9,190.5 129.9,190.5 126.9,190.5 123.9,190.5 120.9,190.5 117.9,190.5 115.0,190.5Z"/>
<path d="M102.7,233.5 102.5,233.2 101.1,229.7 99.7,229.3 96.9,228.2 96.8,225.2 96.5,222.8 96.1,221.2 96.6,219.7 95.7,219.1 95.8,215.5 95.9,212.7 98.2,209.2 99.1,206.4 100.9,204.2 102.7,201.9 104.0,199.8 105.3,197.6 106.3,194.9 107.5,192.1 109.2,192.5 110.9,192.9 109.3,194.7 110.4,194.9 111.5,192.9 112.0,190.5 115.0,190.5 117.9,190.5 120.9,190.5 123.9,190.5 126.9,190.5 129.9,190.5 132.9,190.5 135.8,190.5 138.8,190.5 141.8,190.5 144.8,190.5 147.8,190.5 150.7,190.5 153.7,190.5 156.7,190.5 159.7,190.5 162.7,190.5 165.7,190.5 168.6,190.5 169.2,189.5 169.4,191.3 170.9,191.4 172.5,191.6 173.7,192.3 174.9,193.0 176.8,193.0 178.7,193.1 181.5,192.3 183.4,193.5 185.3,194.7 187.1,195.9 187.5,197.0 189.1,198.3 190.4,200.1 190.0,202.3 189.5,204.5 188.3,206.0 186.1,207.9 186.8,209.4 189.6,208.5 192.5,207.5 195.3,206.6 195.6,205.4 195.5,204.9 198.1,204.6 200.7,204.4 202.3,202.9 205.8,200.9 208.2,200.9 210.6,200.9 213.1,200.9 214.9,199.8 216.4,198.5 217.7,196.5 220.0,194.5 221.8,194.8 222.6,195.6 221.4,199.0 221.8,200.1 222.3,201.2 219.4,202.7 217.5,203.2 214.6,204.4 213.1,205.8 212.9,207.0 211.8,207.7 212.3,208.7 212.6,209.2 213.6,208.5 213.4,209.6 211.9,209.8 211.1,210.0 210.0,210.2 208.8,211.1 206.9,211.7 205.0,212.3 203.9,212.6 203.1,214.5 200.7,216.6 199.8,215.5 200.2,217.0 200.0,218.0 199.1,219.1 197.1,221.4 197.6,218.3 198.7,215.5 197.5,216.0 196.9,219.1 196.1,221.2 196.8,222.0 196.8,224.4 196.6,226.4 194.1,227.9 193.0,227.9 190.3,230.1 187.5,231.5 185.3,233.0 182.6,234.9 181.3,236.8 180.5,239.2 180.5,240.7 181.2,244.4 181.4,246.7 181.6,248.9 181.0,251.4 180.2,252.9 178.4,252.5 177.4,250.5 176.8,248.9 176.0,246.0 176.5,244.4 176.6,242.8 175.6,241.5 173.6,240.3 171.3,241.1 171.0,239.9 169.6,239.2 167.6,239.3 165.8,239.2 163.8,239.2 162.5,239.8 162.0,241.0 162.4,242.8 160.6,242.4 159.2,242.6 157.4,241.5 155.2,241.4 152.3,241.0 150.0,241.9 148.6,243.0 145.7,244.4 143.6,246.0 142.7,248.1 142.6,250.9 140.3,250.6 138.5,249.7 138.2,246.8 136.7,243.6 135.4,240.9 133.0,240.9 130.9,242.8 128.4,241.3 128.1,238.4 126.8,237.0 125.6,235.6 123.7,235.5 121.8,235.5 121.5,236.7 118.3,236.7 115.2,236.7 112.7,235.7 110.3,234.6 107.8,233.6 108.2,233.1 105.5,233.3Z"/>
<path d="M149.6,280.9 148.0,279.0 145.9,277.1 143.2,276.7 140.9,278.0 138.9,277.5 137.3,276.9 135.6,276.3 132.6,274.9 130.2,273.7 127.8,272.0 126.0,271.3 123.3,269.1 121.4,267.6 120.9,265.4 122.2,262.6 121.8,261.3 120.2,258.1 118.8,256.3 117.4,254.4 115.0,251.8 115.2,248.9 113.9,247.3 112.6,245.6 110.8,242.3 110.3,239.7 109.6,236.8 107.2,235.5 106.7,237.6 106.8,240.2 107.8,242.8 108.8,245.5 109.8,247.9 110.7,250.8 111.5,253.4 111.7,255.2 113.0,255.8 113.4,258.1 112.1,259.0 111.5,257.9 110.2,256.3 108.2,253.7 108.3,250.5 106.2,248.9 104.6,247.9 103.4,245.9 105.6,245.0 105.0,243.1 103.4,241.0 103.4,238.9 102.9,235.7 102.7,233.5 105.5,233.3 108.2,233.1 107.8,233.6 110.3,234.6 112.7,235.7 115.2,236.7 118.3,236.7 121.5,236.7 121.8,235.5 123.7,235.5 125.6,235.6 126.8,237.0 128.1,238.4 128.4,241.3 130.9,242.8 133.0,240.9 135.4,240.9 136.7,243.6 138.2,246.8 138.5,249.7 140.3,250.6 142.6,250.9 141.4,253.4 140.1,256.6 139.8,258.6 139.5,260.6 140.1,263.9 141.5,266.8 142.2,268.7 142.6,269.2 144.1,270.0 145.5,271.4 147.1,271.1 150.0,270.3 151.8,270.1 153.8,268.9 155.2,267.0 155.9,263.9 157.7,263.1 161.1,262.4 163.6,262.5 164.1,263.5 162.3,266.0 161.9,268.4 161.1,271.1 160.3,270.5 160.1,271.6 159.7,273.2 159.0,275.8 157.6,277.4 156.9,277.4 157.3,274.9 157.6,272.3 155.5,272.3 153.4,272.3 153.2,273.8 152.1,273.8 154.1,276.9 151.1,277.0 149.8,279.5Z"/>
<path d="M159.4,284.2 157.8,284.5 156.0,283.8 154.2,283.0 155.6,281.9 156.1,281.3 158.0,282.4 159.1,282.7Z"/>
<path d="M160.5,285.2 160.4,284.1 159.4,284.2 159.1,282.7 158.0,282.4 156.1,281.3 156.8,279.6 159.1,277.9 159.9,277.5 161.9,277.6 164.3,277.4 166.6,277.2 168.2,277.6 169.2,279.0 170.6,279.8 168.6,280.4 166.2,280.5 163.5,282.4 161.9,284.2Z"/>
<path d="M163.7,290.0 162.1,287.9 160.9,286.6 159.6,285.3 160.5,285.2 161.9,284.2 163.5,282.4 166.2,280.5 168.6,280.4 170.6,279.8 169.8,282.4 169.3,285.3 168.5,287.7 168.4,288.7 168.5,290.5 167.7,290.8 165.7,290.4Z"/>
<path d="M169.8,298.1 169.4,297.2 168.1,297.0 168.1,295.6 166.1,294.0 165.6,292.9 165.0,294.0 163.3,292.9 163.2,291.9 163.7,290.0 165.7,290.4 167.7,290.8 168.5,290.5 168.8,291.6 169.9,292.9 170.9,294.1 169.9,294.3 170.1,296.1Z"/>
<path d="M181.3,300.3 180.7,299.3 180.3,297.4 179.0,296.1 177.8,295.7 176.9,296.4 175.6,297.9 176.5,299.7 175.4,300.2 174.4,300.2 174.0,299.0 172.6,299.0 171.5,297.4 169.8,298.1 170.1,296.1 169.9,294.3 170.9,294.1 172.1,295.6 173.2,296.1 174.8,296.0 177.0,294.6 177.8,294.0 179.1,294.1 181.4,294.8 182.8,296.4 182.7,298.5Z"/>
<path d="M178.7,315.6 178.8,314.6 181.4,312.2 182.9,309.0 182.5,307.7 182.1,304.5 182.5,301.6 181.3,300.3 182.7,298.5 182.8,296.4 184.0,298.2 183.8,296.9 185.3,295.8 186.7,294.3 187.3,291.9 188.9,290.2 190.5,289.5 193.5,288.8 195.3,287.1 196.6,286.5 197.3,287.7 197.2,288.1 195.7,288.6 196.0,289.1 195.0,289.9 193.0,293.5 193.2,295.3 194.0,297.2 194.0,299.8 195.0,300.8 197.2,300.8 199.4,300.8 200.9,303.2 203.2,303.1 205.5,303.0 204.6,305.3 204.5,307.4 205.7,310.3 204.4,311.9 205.9,313.0 206.6,316.1 206.1,314.8 204.0,314.7 201.8,314.8 199.7,314.8 199.6,316.5 201.3,317.6 199.2,317.7 199.2,319.6 200.7,321.9 200.3,324.7 199.9,327.6 199.6,330.4 198.7,329.5 199.1,326.4 195.8,325.4 194.1,324.7 192.3,324.0 189.3,321.7 187.1,319.6 184.6,318.2 181.8,317.5Z"/>
<path d="M175.5,328.3 176.3,325.6 175.4,326.2 173.7,325.1 174.3,324.6 173.9,322.1 174.8,321.7 175.8,319.3 176.7,316.7 178.7,315.6 181.8,317.5 184.6,318.2 187.1,319.6 186.3,323.4 183.9,326.2 181.2,327.2 180.0,328.3 179.2,331.4 178.6,332.5 177.0,331.0 175.2,330.9 175.8,329.6Z"/>
<path d="M222.5,458.3 222.4,458.7 222.4,460.5 220.7,459.7 218.6,458.8 216.5,458.0 213.9,457.0 212.0,454.4 210.8,452.5 209.7,450.6 209.0,448.7 208.3,446.8 209.4,444.7 208.5,442.9 206.1,442.1 206.4,439.6 206.3,436.5 205.9,433.3 204.9,429.9 205.5,429.2 204.6,427.1 204.6,424.3 204.1,421.8 202.5,418.4 203.0,416.0 203.2,412.9 203.8,410.0 203.8,406.4 203.6,404.2 202.7,401.0 202.8,398.3 202.2,394.4 202.7,390.6 202.7,388.4 202.7,386.3 202.5,384.0 202.3,381.7 201.7,380.2 202.3,377.6 202.1,375.1 201.9,372.6 201.5,370.3 201.1,368.1 200.9,367.7 202.7,365.4 203.6,367.4 204.4,369.4 205.6,371.8 205.1,373.1 206.7,376.0 207.9,379.5 209.3,379.4 209.9,379.9 209.5,382.6 207.0,384.7 207.6,387.5 208.2,390.2 206.4,392.6 205.5,395.2 205.7,397.3 206.0,399.4 205.7,402.3 206.5,404.3 207.4,406.3 208.5,409.5 207.7,412.4 207.4,415.5 207.7,417.5 208.1,419.5 208.2,421.4 208.2,423.4 208.6,426.5 209.3,428.5 210.0,430.5 210.8,432.7 211.7,434.9 212.6,437.5 214.0,439.3 213.9,441.9 213.7,444.2 214.4,447.0 213.6,449.3 215.2,452.1 217.2,453.2 218.9,455.7 220.9,455.7 222.9,455.7 224.7,456.1 226.4,456.6 224.5,456.8 222.6,457.5 222.6,457.7 222.1,458.0Z"/>
<path d="M222.5,458.3 222.6,457.7 222.9,457.6 224.4,457.0 226.3,457.3 227.6,460.2 228.8,463.0 229.5,464.7 226.5,463.8 224.7,463.2 222.9,462.5 220.8,461.2 223.1,460.7 224.2,459.7 223.3,459.0Z"/>
<path d="M222.6,457.7 222.5,458.3 222.1,458.0Z"/>
<path d="M244.5,408.3 243.9,410.0 241.6,411.4 238.9,411.3 236.9,410.7 235.0,410.1 233.5,408.7 233.3,405.0 233.5,402.3 233.6,398.9 235.5,399.7 237.4,400.5 238.3,400.6 240.8,402.3 243.5,405.0 244.5,405.5Z"/>
<path d="M242.1,308.2 243.4,309.0 244.3,312.7 246.1,314.8 245.9,316.9 243.8,319.3 244.9,319.0 247.0,318.8 249.6,319.8 249.8,321.1 251.9,320.9 255.2,322.2 258.0,323.8 259.2,325.9 261.5,325.6 263.8,326.3 266.2,326.9 269.4,326.9 272.7,329.1 275.5,331.7 277.2,332.6 279.7,332.7 280.5,334.6 281.5,338.2 281.3,340.5 280.4,342.6 279.5,344.7 278.0,347.0 276.5,348.0 275.3,350.4 273.3,353.6 272.8,355.9 272.4,358.3 272.5,360.4 272.6,362.5 272.4,364.5 272.3,366.5 271.9,368.7 271.4,371.0 270.2,372.8 269.5,375.1 268.8,377.3 266.7,379.8 264.0,379.8 261.5,379.9 260.9,380.9 259.2,382.0 257.1,382.4 255.4,383.8 253.8,385.2 252.8,386.5 252.5,388.4 253.0,392.1 252.7,394.4 250.9,396.5 250.4,397.9 249.2,400.5 246.7,404.1 246.0,406.6 244.5,408.3 244.5,405.5 243.5,405.0 240.8,402.3 238.3,400.6 237.4,400.5 235.5,399.7 233.6,398.9 235.3,396.5 236.9,394.2 238.6,392.7 241.0,390.9 241.1,388.5 240.6,386.8 238.7,386.8 238.9,384.7 239.0,382.7 236.5,382.6 235.7,378.9 234.7,378.1 232.6,377.8 230.5,377.6 229.9,375.0 229.3,372.4 229.9,369.4 230.3,366.8 228.1,364.9 228.0,362.3 226.0,362.2 224.0,362.1 223.3,358.9 222.6,355.7 221.4,354.9 219.3,354.2 217.2,353.6 215.3,352.8 213.4,352.1 211.1,349.6 210.9,347.2 210.8,344.9 207.9,345.4 206.0,346.9 204.1,348.3 201.2,348.2 198.8,348.3 198.7,346.3 198.6,344.3 196.7,345.0 194.9,345.7 193.2,344.1 191.8,341.6 190.4,339.1 190.9,338.0 190.6,336.7 192.8,333.0 195.0,332.0 197.3,330.9 199.6,330.4 199.9,327.6 200.3,324.7 200.7,321.9 199.2,319.6 199.2,317.7 201.3,317.6 199.6,316.5 199.7,314.8 201.8,314.8 204.0,314.7 206.1,314.8 206.6,316.1 209.5,316.9 211.3,316.0 213.0,315.1 214.7,313.2 213.3,312.7 212.5,310.6 211.8,308.5 213.9,309.0 215.9,309.5 216.4,308.6 218.4,308.0 220.4,307.4 221.0,305.6 222.8,306.1 223.7,307.7 223.9,309.0 223.4,311.0 222.9,313.0 224.9,315.7 227.2,315.3 229.0,314.8 230.8,314.2 232.1,314.4 235.2,313.2 237.0,313.3 238.9,313.5 239.9,312.7 241.0,310.5Z"/>
<path d="M229.5,303.6 232.1,303.9 234.1,303.6 236.8,304.1 235.6,307.2 236.2,310.3 235.2,313.2 232.1,314.4 230.8,314.2 228.9,310.5 227.6,307.2 229.1,305.6Z"/>
<path d="M223.0,296.8 223.5,297.4 226.2,300.1 227.2,301.4 228.7,302.7 229.5,303.6 229.1,305.6 227.6,307.2 228.9,310.5 230.8,314.2 229.0,314.8 227.2,315.3 224.9,315.7 222.9,313.0 223.4,311.0 223.9,309.0 223.7,307.7 222.8,306.1 221.0,305.6 219.6,303.6 220.2,301.6 222.2,300.6 221.6,298.7Z"/>
<path d="M196.0,289.1 196.7,290.3 196.4,291.0 197.9,290.3 199.8,289.2 199.6,287.9 200.4,287.1 200.8,288.8 202.8,289.1 204.1,290.3 204.7,291.6 207.1,291.4 209.2,291.4 211.6,292.7 213.5,291.6 216.3,291.1 218.9,291.0 217.3,291.5 217.9,292.9 219.5,293.3 221.3,294.5 223.0,296.8 221.6,298.7 222.2,300.6 220.2,301.6 219.6,303.6 221.0,305.6 220.4,307.4 218.4,308.0 216.4,308.6 215.9,309.5 213.9,309.0 211.8,308.5 212.5,310.6 213.3,312.7 214.7,313.2 213.0,315.1 211.3,316.0 209.5,316.9 206.6,316.1 205.9,313.0 204.4,311.9 205.7,310.3 204.5,307.4 204.6,305.3 205.5,303.0 203.2,303.1 200.9,303.2 199.4,300.8 197.2,300.8 195.0,300.8 194.0,299.8 194.0,297.2 193.2,295.3 193.0,293.5 195.0,289.9Z"/>
<path d="M253.5,122.9 255.7,122.5 258.0,122.0 260.2,121.6 262.4,121.2 264.3,120.7 266.2,120.2 268.1,119.7 270.6,117.7 272.7,117.2 274.7,116.8 276.8,116.3 278.6,116.2 280.5,116.1 282.3,116.0 284.2,115.9 286.0,115.8 287.8,115.7 289.6,115.6 291.4,115.5 293.2,115.4 295.1,115.2 296.9,115.1 298.8,114.9 300.5,114.8 302.3,114.6 304.0,114.4 305.8,114.3 307.5,114.1 309.5,114.1 311.5,114.0 313.4,113.9 315.4,113.8 317.3,113.7 318.9,113.8 320.5,113.8 322.2,113.9 323.8,113.9 325.4,114.0 326.6,114.3 327.9,114.6 329.2,114.9 330.4,115.2 331.7,115.5 333.0,115.9 334.1,116.8 335.9,116.8 337.7,116.7 339.5,116.6 341.2,116.5 342.8,116.7 344.4,116.9 346.0,117.2 344.2,117.8 342.3,118.4 340.8,118.8 339.2,119.2 337.7,119.6 336.4,120.5 335.1,121.4 333.1,123.3 334.2,125.3 332.8,126.3 331.4,127.3 331.7,129.3 329.8,130.7 328.5,131.6 327.1,132.4 326.0,135.0 326.5,136.7 325.7,138.9 324.3,139.6 322.9,140.4 321.4,141.3 320.0,142.2 318.1,142.7 316.3,143.3 314.5,143.6 312.8,143.9 311.0,144.2 308.7,144.9 306.3,145.5 304.7,146.7 303.1,147.8 300.9,148.5 298.6,149.2 296.4,149.9 294.0,150.6 291.5,151.3 289.7,153.6 286.3,156.4 283.8,159.5 281.6,162.4 280.5,163.6 279.2,163.1 277.8,162.6 276.5,161.2 274.8,160.6 273.2,160.0 271.8,158.3 271.1,156.0 270.1,153.1 270.1,150.6 269.6,148.7 269.2,146.9 270.7,144.4 272.2,142.8 274.1,142.5 275.9,142.2 276.5,140.8 274.4,141.3 272.3,141.7 271.2,141.2 270.1,140.6 272.3,139.3 271.7,138.4 274.0,138.1 276.3,137.8 274.6,137.3 272.9,136.9 271.2,136.5 271.6,133.9 272.5,131.4 272.2,129.9 271.9,128.5 270.8,127.9 269.6,127.3 268.2,127.1 266.7,127.0 265.3,126.9 263.3,127.1 261.4,127.3 259.4,127.5 258.0,127.3 256.7,127.1 256.1,126.4 255.5,125.7 254.8,124.3 254.1,123.6Z"/>
<path d="M255.7,147.6 252.5,149.7 250.7,150.6 248.9,151.5 248.2,150.1 247.4,148.7 246.0,148.5 244.5,148.3 245.0,149.8 245.5,151.3 246.2,154.5 245.5,156.2 244.0,155.8 242.4,155.5 241.0,154.8 239.5,154.2 240.5,155.7 241.6,157.1 242.6,157.8 243.6,158.6 241.9,158.2 240.3,157.9 238.6,157.6 237.0,157.1 235.5,156.7 234.3,155.6 233.0,154.5 231.8,153.6 230.6,152.7 228.2,152.9 225.8,153.1 224.6,152.7 223.4,152.2 225.6,150.6 227.8,150.4 229.9,150.3 232.1,150.1 234.3,147.8 237.4,145.5 237.5,144.0 236.1,143.6 234.6,143.3 233.3,142.7 232.0,142.1 230.7,141.5 230.1,140.0 228.4,140.0 226.6,140.1 224.9,140.2 223.3,140.1 221.7,140.0 220.0,140.0 218.6,139.6 217.2,139.3 215.8,138.5 214.3,137.8 215.4,135.6 218.1,133.5 219.9,132.7 221.8,132.0 223.9,131.9 226.0,131.8 225.4,134.3 227.8,132.4 229.5,132.3 231.3,132.1 233.0,132.0 233.6,132.2 232.9,133.0 234.7,133.4 236.4,133.7 237.2,133.6 238.3,133.9 239.3,134.1 240.2,135.1 241.2,136.0 242.6,136.9 244.1,137.8 245.8,138.3 247.5,138.9 248.1,140.0 248.7,141.1 249.0,143.3 250.7,144.1 252.4,144.9 253.7,145.8 254.9,146.7Z"/>
<path d="M233.6,132.2 235.1,132.9 236.6,133.5 237.2,133.6 236.4,133.7 234.7,133.4 232.9,133.0Z"/>
<path d="M237.2,133.6 236.6,133.5 235.1,132.9 233.6,132.2 233.9,131.9 235.4,131.9 237.0,132.0 238.0,132.7 239.0,133.5Z"/>
<path d="M244.1,126.5 242.5,126.6 240.8,126.7 239.1,126.9 237.2,126.7 235.3,126.6 233.4,126.5 231.7,126.4 230.0,126.4 228.3,126.3 226.7,126.3 226.9,124.7 229.2,124.0 231.4,123.3 233.9,121.8 235.9,121.3 237.9,120.8 237.8,119.9 237.8,119.0 236.2,118.9 234.6,118.8 233.0,118.6 233.4,117.3 232.4,117.4 235.1,116.8 237.7,116.2 239.9,116.0 242.0,115.7 244.1,115.5 246.1,115.3 248.1,115.1 250.0,114.9 252.0,114.8 253.9,114.7 255.8,114.7 257.7,114.6 259.6,114.5 261.5,114.5 263.4,114.4 265.2,114.5 267.0,114.6 268.8,114.7 270.7,114.8 272.5,114.9 273.9,115.1 275.4,115.3 276.8,115.5 274.5,116.2 272.1,116.8 269.8,117.3 267.5,117.7 265.2,118.2 263.2,118.8 261.2,119.3 259.2,119.9 257.0,120.3 254.7,120.6 252.3,121.0 249.0,122.9 246.8,123.7 244.5,124.5Z"/>
<path d="M233.0,118.6 231.9,118.5 231.8,117.5 232.4,117.4 233.4,117.3Z"/>
<path d="M232.4,117.4 231.8,117.5 231.9,118.5 233.0,118.6 232.9,118.9 234.1,119.1 235.2,119.3 236.4,119.6 233.3,121.0 232.1,122.7 230.1,122.8 228.1,122.9 227.0,122.6 225.8,122.4 224.6,122.1 224.0,121.4 223.5,120.6 222.9,119.9 226.0,118.7 229.0,117.5 230.7,117.4Z"/>
<path d="M238.2,128.7 235.4,130.1 233.5,130.2 231.7,130.2 229.9,130.3 228.1,130.3 226.0,130.3 224.0,130.2 222.0,130.1 220.5,130.0 219.1,129.9 217.6,129.7 219.4,127.3 218.1,126.9 216.7,126.5 215.4,126.1 217.2,125.9 218.9,125.7 220.7,125.5 221.8,125.8 223.0,126.1 224.2,126.5 224.9,127.2 225.8,127.9 227.9,127.8 230.0,127.7 232.2,127.7 233.6,127.7 235.1,127.8 236.6,127.9 237.4,128.3Z"/>
<path d="M218.7,131.6 216.6,133.7 214.0,134.5 211.5,135.4 209.4,135.3 207.3,135.2 208.7,132.8 211.2,131.4 212.9,131.3 214.6,131.2 216.2,131.2 217.4,131.4Z"/>
<path d="M204.7,135.6 202.5,136.3 200.3,136.9 199.4,136.5 198.6,136.0 197.6,135.0 196.7,133.9 198.9,132.9 201.0,132.0 202.8,131.9 204.5,131.7 206.3,131.6 206.0,133.5Z"/>
<path d="M201.1,142.2 199.2,142.6 197.3,143.1 195.5,142.6 193.8,142.2 195.9,140.2 197.5,140.1 199.1,140.0 200.0,140.4 200.9,140.8Z"/>
<path d="M191.6,140.8 188.3,142.6 186.4,142.8 184.5,143.1 182.6,143.3 180.7,143.1 178.8,142.8 176.9,143.0 175.1,143.1 173.3,143.3 171.2,143.2 169.2,143.1 167.8,142.4 166.3,141.7 166.5,140.0 169.0,139.7 171.4,139.5 173.9,139.3 172.0,139.0 170.1,138.7 168.2,138.4 167.6,137.8 167.1,137.1 169.4,136.9 171.7,136.7 170.4,136.4 169.1,136.1 167.8,135.8 170.2,134.8 172.7,133.7 174.6,133.4 176.6,133.1 178.5,132.8 180.0,133.2 181.4,133.5 182.9,133.9 184.9,133.5 186.9,133.2 188.9,132.8 191.2,132.6 193.4,132.4 193.0,134.3 189.4,137.1 190.6,137.8 191.8,138.6 193.1,139.3Z"/>
<path d="M177.1,132.6 174.9,133.2 172.7,133.7 169.9,134.7 167.1,135.7 164.3,136.7 161.8,137.1 159.2,137.6 158.3,136.6 157.4,135.6 159.9,133.9 162.5,132.2 165.9,130.7 167.7,130.6 169.5,130.5 171.2,130.3 172.5,130.5 173.9,130.7 175.2,131.0 176.1,131.8Z"/>
<path d="M196.9,129.3 195.1,129.8 193.3,130.3 191.5,130.3 189.7,130.3 187.8,130.3 186.2,130.4 184.5,130.5 182.8,130.5 181.7,130.0 180.5,129.4 179.4,128.9 181.1,127.1 183.4,126.8 185.8,126.5 187.0,126.7 188.1,127.0 189.3,127.3 191.6,126.7 193.8,126.2 196.1,125.7 196.9,126.5 197.8,127.3Z"/>
<path d="M210.6,128.3 208.7,129.3 206.7,129.3 204.7,129.3 203.9,128.7 203.0,128.1 205.7,126.5 207.4,126.3 209.1,126.2 210.8,126.1 210.7,127.2Z"/>
<path d="M185.6,126.1 182.8,126.7 180.0,127.3 178.3,127.3 176.6,127.3 174.8,127.3 173.1,127.3 173.5,126.5 175.9,125.9 178.4,125.3 180.5,124.9 182.6,124.5 184.2,124.4 185.8,124.3 187.4,124.3Z"/>
<path d="M217.2,123.3 215.6,123.4 213.9,123.5 212.3,123.7 211.1,123.4 209.9,123.2 208.8,122.9 208.3,122.1 207.9,121.4 209.8,121.2 211.8,121.0 213.7,120.8 215.0,121.3 216.2,121.8 216.7,122.5Z"/>
<path d="M218.6,154.1 216.9,154.3 215.1,154.5 214.1,154.0 213.2,153.4 210.8,154.2 208.5,155.0 207.1,154.8 205.8,154.5 209.0,152.9 210.6,150.1 213.5,149.0 214.6,149.3 215.7,149.7 216.4,150.6 217.1,151.5 218.1,152.7Z"/>
<path d="M216.5,156.7 214.3,157.3 212.1,157.8 210.7,157.1 212.5,156.5 214.2,156.0 215.3,156.3Z"/>
<path d="M240.5,194.1 242.5,191.6 245.0,188.8 246.8,186.5 248.5,184.4 251.4,183.9 249.6,186.5 249.4,188.2 251.1,189.3 253.4,190.0 253.6,192.1 254.1,194.4 252.8,196.6 251.5,196.6 250.8,196.2 251.1,195.2 248.0,195.9 247.3,194.1 245.2,194.1 243.2,194.0Z"/>
<path d="M231.8,188.4 233.7,188.7 235.6,189.0 236.8,190.3 234.3,189.9 233.0,189.1Z"/>
<path d="M229.2,196.6 231.0,196.8 232.5,197.0 234.0,197.1 232.6,198.3 230.2,197.4Z"/>
<path d="M104.3,186.0 106.7,186.0 108.6,187.2 109.7,189.0 111.0,190.8 109.9,192.2 107.5,191.7 106.3,190.5 105.6,188.0Z"/>
<path d="M101.7,177.6 103.7,178.1 102.0,180.4 101.4,182.7 100.6,180.6 100.3,179.1Z"/>
<path d="M67.1,169.9 70.7,168.2 73.6,167.7 72.6,169.2 68.4,170.7Z"/>
<path d="M51.4,162.9 53.8,162.2 54.9,162.6 53.0,163.6Z"/>
<path d="M53.4,155.0 56.9,154.3 57.5,154.9 58.0,155.5 55.3,156.0 54.3,155.5Z"/>
<path d="M168.6,261.7 170.0,260.5 171.0,259.6 173.0,258.8 174.9,258.3 177.6,258.3 180.3,258.8 181.9,260.2 183.9,260.5 185.6,261.8 187.7,263.3 189.4,263.9 191.2,264.9 192.8,265.9 191.9,266.4 189.3,266.8 186.1,266.8 184.5,267.0 185.8,265.5 184.3,264.7 183.0,262.6 180.1,262.1 177.7,261.0 175.5,260.2 174.0,259.6 172.0,260.9 170.3,261.6Z"/>
<path d="M198.1,267.2 200.1,267.0 202.3,267.5 202.8,268.9 204.7,269.2 205.6,270.3 204.0,270.8 201.7,270.8 199.4,271.2 198.3,272.9 197.6,271.7 197.4,270.3 198.0,268.9Z"/>
<path d="M182.6,271.1 183.7,270.5 185.9,270.8 187.4,271.8 185.6,272.2 183.7,272.2Z"/>
<path d="M208.0,270.9 210.9,270.7 211.7,271.3 209.7,272.0 208.1,271.8Z"/>
<path d="M218.8,292.8 219.5,291.1 221.2,290.8 220.9,292.5Z"/>
<path d="M184.9,253.1 186.0,253.1 186.2,255.5 185.3,255.2Z"/>
<path d="M186.5,248.9 188.2,249.3 188.2,250.8 187.7,250.0Z"/>
<path d="M194.3,263.7 195.4,263.4 195.1,264.1Z"/>
<path d="M5.2,267.2 6.0,265.9 7.4,267.0 7.8,267.9 5.6,269.3 5.2,268.7Z"/>
<path d="M4.4,264.2 6.0,264.5 5.1,265.0Z"/>
<path d="M1.3,262.5 2.4,262.9 1.7,263.1Z"/>
<path d="M-1.8,261.0 -0.7,260.9 -1.2,261.6Z"/>
<path d="M350.8,187.8 352.2,187.0 353.3,185.6 355.3,184.9 356.9,184.1 355.9,184.3 354.3,184.1 352.1,183.7 353.3,182.7 354.2,181.6 352.9,180.9 353.6,179.9 356.0,179.5 356.4,179.4 356.3,177.9 355.3,176.6 356.5,175.5 354.6,175.8 352.7,176.1 352.4,175.4 353.2,173.9 352.8,173.0 351.4,174.6 351.5,172.7 350.4,171.2 351.4,169.7 351.3,168.3 352.9,166.5 354.7,166.4 356.6,166.4 354.7,168.2 354.3,169.2 356.4,169.0 358.5,168.7 358.9,169.2 358.3,170.1 357.5,171.7 356.5,171.8 357.3,172.8 355.7,172.9 358.4,173.4 359.6,175.4 360.1,176.4 361.5,177.1 362.1,178.9 362.9,180.1 362.7,180.8 363.3,180.5 364.9,180.5 365.8,181.6 364.9,183.2 363.7,184.2 365.1,184.6 365.0,185.2 364.2,185.7 362.9,186.1 360.7,186.1 359.7,186.0 358.3,186.5 357.4,186.7 356.3,186.2 355.2,187.0 353.8,187.1 352.1,187.9Z"/>
<path d="M348.0,174.4 348.3,174.5 348.2,175.3 347.7,176.0 346.5,176.6 348.0,177.5 349.4,177.8 350.1,177.6 350.4,177.9 350.3,177.9 350.3,179.5 350.4,180.6 349.6,182.4 347.4,182.7 345.7,183.4 344.2,183.9 342.7,184.3 341.8,182.7 343.1,181.4 343.7,180.1 344.5,179.8 342.6,179.1 342.7,177.4 344.2,177.3 345.7,177.1 345.1,176.3 346.2,175.0Z"/>
<path d="M348.3,174.5 350.3,174.9 351.4,176.1 351.6,176.9 350.4,177.9 350.1,177.6 349.4,177.8 348.0,177.5 346.5,176.6 347.7,176.0 348.2,175.3Z"/>
<path d="M320.1,150.1 321.6,149.0 323.1,147.9 324.8,150.1 326.8,148.7 328.6,148.7 330.5,148.7 332.2,148.3 333.9,147.8 335.4,148.0 336.8,148.2 338.4,150.1 338.4,151.3 336.3,152.9 334.5,153.5 332.7,154.1 330.7,154.5 328.7,155.0 327.2,154.8 325.8,154.7 324.3,154.0 323.0,154.0 321.6,154.1 323.1,152.9 322.7,152.0 321.2,151.8 319.8,151.6 321.6,151.3 323.4,151.0 321.3,150.6 319.2,150.1Z"/>
<path d="M378.3,120.3 379.8,120.1 381.2,120.0 382.6,119.8 384.3,119.7 386.0,119.7 387.6,119.6 389.2,120.3 390.9,121.0 389.7,122.3 390.7,123.3 389.8,124.0 388.8,124.7 387.9,126.2 386.5,125.7 385.1,125.3 383.4,124.3 382.8,123.1 381.1,122.7 379.4,122.3 378.5,121.4Z"/>
<path d="M388.3,119.4 390.2,119.2 392.1,119.0 393.9,118.9 395.8,119.0 397.6,119.1 399.5,119.3 401.3,119.4 399.7,120.1 398.1,120.7 396.4,120.6 394.8,120.5 393.1,120.4 391.4,120.3 389.9,119.8Z"/>
<path d="M393.7,123.3 395.6,123.5 397.6,123.7 397.1,124.7 395.9,124.5 394.7,124.3Z"/>
<path d="M451.0,138.2 449.1,137.4 447.2,136.7 446.9,135.0 447.3,133.5 447.7,132.0 448.6,130.7 449.4,129.5 450.9,128.7 452.3,127.9 454.0,127.4 455.8,126.9 457.5,126.5 459.2,126.1 460.9,125.7 462.6,125.3 464.7,125.4 466.8,125.5 465.4,126.0 464.0,126.5 462.5,127.1 461.0,127.7 459.4,128.4 457.8,129.1 456.8,130.0 455.9,131.0 454.5,132.0 453.1,133.0 452.6,135.0 454.3,135.8 456.0,136.7 457.8,138.6 455.5,138.5 453.3,138.4Z"/>
<path d="M502.8,121.4 500.2,120.8 497.7,120.3 495.7,119.5 493.6,118.7 493.9,118.1 494.2,117.5 496.3,117.7 498.5,117.8 500.6,118.0 502.6,118.5 504.7,118.9 506.8,119.4 508.9,119.9 511.1,120.5 512.7,120.6 514.4,120.7 516.0,120.8 517.8,122.7 516.1,122.7 514.5,122.7 512.8,122.7 511.1,122.7 509.0,122.4 506.9,122.0 504.8,121.7Z"/>
<path d="M576.1,128.7 576.2,128.0 576.2,127.3 578.0,127.2 579.7,127.1 582.5,127.5 585.2,127.9 588.0,128.3 587.6,128.8 587.3,129.3 585.7,129.4 584.0,129.6 582.4,129.7 580.3,129.4 578.2,129.0Z"/>
<path d="M591.3,128.9 591.9,128.3 594.0,128.4 596.1,128.5 598.3,129.3 595.9,129.2 593.6,129.0Z"/>
<path d="M586.4,132.4 586.0,131.6 587.6,131.6 589.2,131.6 593.0,133.0 590.8,132.8 588.6,132.6Z"/>
<path d="M656.4,136.7 657.9,136.6 660.1,137.9 657.4,137.6Z"/>
<path d="M68.6,136.5 69.1,136.9 69.6,137.3 67.6,137.8 65.6,138.2 64.5,137.9 66.7,136.6Z"/>
<path d="M429.6,118.5 430.7,118.0 432.5,117.8 434.3,117.7 436.1,117.5 437.7,117.4 439.4,117.3 441.1,117.1 442.8,117.0 444.5,117.4 446.2,117.8 448.0,118.2 446.8,118.5 445.6,118.8 444.4,119.0 442.5,119.1 440.6,119.2 438.7,119.2 437.1,119.0 435.5,118.7 433.5,118.6 431.6,118.6Z"/>
<path d="M640.0,177.1 642.0,177.4 645.5,180.4 647.1,182.3 648.6,184.2 650.9,186.1 653.2,188.0 656.8,190.5 654.9,190.3 652.9,190.0 654.4,193.1 658.5,196.2 659.8,197.7 657.0,196.7 656.7,198.3 655.4,196.3 654.2,194.4 652.8,192.5 651.5,190.5 649.5,188.0 647.5,185.4 645.6,183.5 643.6,181.6 641.5,179.4Z"/>
<path d="M660.4,210.0 659.8,207.9 658.2,207.1 658.3,205.3 660.4,205.5 659.3,202.7 657.5,199.8 659.7,200.9 663.9,202.9 665.3,202.8 666.8,202.7 668.6,205.0 669.6,205.1 668.1,205.7 666.6,206.3 666.6,208.7 664.5,207.9 662.4,207.1 660.9,207.6 662.5,209.2 661.4,210.2Z"/>
<path d="M662.3,210.0 663.8,210.2 665.2,212.6 667.8,214.9 668.5,218.3 667.6,218.6 669.1,221.8 669.3,223.6 670.6,225.2 670.3,226.5 669.5,227.3 668.5,225.4 667.5,226.5 667.6,227.9 666.2,228.1 664.2,228.1 662.9,227.0 663.6,228.9 662.9,229.9 662.2,231.1 660.2,229.9 659.8,228.1 657.0,228.1 655.1,228.9 653.6,228.9 653.4,229.9 651.1,229.8 650.4,228.7 651.8,227.9 652.9,226.0 654.1,225.6 656.5,225.6 658.2,225.1 660.1,225.3 659.4,223.9 660.2,222.4 659.6,221.0 660.5,220.4 660.7,222.2 661.7,222.3 663.3,220.8 664.2,218.7 663.9,216.5 663.1,214.4 661.6,212.3 661.7,211.0Z"/>
<path d="M654.0,231.5 654.7,231.0 654.9,229.4 656.3,229.0 658.2,228.9 659.4,230.2 659.0,231.6 657.4,231.1 656.9,233.1 656.0,233.0Z"/>
<path d="M649.0,231.5 650.2,230.7 650.9,229.9 653.0,230.7 654.2,232.3 654.5,236.0 653.9,236.8 653.4,237.6 652.2,236.8 651.6,234.7 651.7,233.4 649.9,233.4 649.3,232.3Z"/>
<path d="M636.5,253.4 637.5,252.6 638.6,253.4 638.4,256.0 638.5,258.4 637.8,261.6 636.0,259.7 635.4,258.4 635.4,256.6Z"/>
<path d="M611.2,268.4 612.1,266.8 614.8,266.3 616.4,267.6 615.6,269.7 613.8,271.3 611.6,270.5Z"/>
<path d="M651.9,290.3 651.8,290.3 651.6,289.5 651.7,289.5Z"/>
<path d="M616.1,315.3 617.5,314.0 617.7,315.3 619.6,317.1 622.7,316.7 623.6,315.5 625.3,315.7 627.1,316.0 629.2,315.5 630.2,311.9 631.3,310.3 631.5,308.0 633.7,308.1 635.9,308.2 636.7,310.3 636.0,311.4 637.0,313.5 639.4,316.7 637.1,316.9 636.2,318.5 635.9,321.4 633.8,323.3 633.5,325.9 632.7,329.6 630.3,329.6 628.9,330.1 628.8,328.5 626.9,328.4 625.3,327.5 622.5,328.5 622.1,326.9 618.8,326.9 618.7,324.0 616.8,321.7 616.4,319.3 615.9,316.9Z"/>
<path d="M627.9,307.3 628.8,306.4 630.2,305.6 630.5,308.0 628.9,308.8Z"/>
<path d="M583.9,304.5 586.7,305.6 589.0,305.6 591.0,308.2 592.7,309.8 594.8,311.7 596.0,313.5 598.4,314.0 600.5,315.9 602.4,317.7 604.0,319.3 603.1,321.4 605.4,321.9 606.5,325.4 609.0,327.2 609.2,328.0 608.7,330.6 608.6,332.6 608.5,334.6 607.1,334.7 605.5,334.9 603.9,333.0 602.1,331.4 600.3,329.8 598.3,326.7 597.2,324.6 595.9,321.4 594.7,319.3 593.1,317.7 592.1,314.8 589.7,313.0 588.5,310.9 586.6,309.3 584.2,306.4Z"/>
<path d="M606.7,337.2 608.7,334.9 610.3,335.1 613.1,335.8 614.6,337.1 616.7,337.4 618.8,337.6 620.0,336.2 621.4,336.8 623.9,337.5 624.7,339.6 627.9,339.7 627.8,342.1 625.1,341.2 623.3,341.2 621.6,341.3 619.6,340.7 617.7,340.1 614.7,339.6 611.9,339.6 609.4,338.7 607.4,337.4Z"/>
<path d="M628.1,340.8 629.8,340.5 630.8,341.4 629.6,342.5Z"/>
<path d="M631.2,342.4 632.3,341.1 633.2,341.4 632.6,342.8Z"/>
<path d="M633.4,341.7 635.5,340.8 636.9,341.3 638.5,341.2 638.4,342.4 636.8,342.5 633.7,343.3Z"/>
<path d="M640.6,341.6 643.2,341.3 646.2,341.3 647.8,341.2 647.3,342.1 644.2,342.8 642.5,342.6 640.7,342.5Z"/>
<path d="M638.3,344.3 640.6,344.0 642.3,345.7 640.4,346.5 638.4,345.1Z"/>
<path d="M648.5,346.6 650.6,344.1 652.3,342.9 652.5,343.8 652.3,345.1 652.1,345.1 649.7,346.5Z"/>
<path d="M643.6,315.9 646.4,316.5 648.7,316.8 651.1,316.7 652.9,315.3 653.8,315.1 652.2,318.1 649.4,318.4 646.4,318.1 644.1,318.1 642.5,318.0 642.0,319.8 643.1,321.9 643.5,323.0 645.2,321.7 647.6,321.4 649.7,321.1 649.2,321.9 646.8,323.5 645.4,324.3 646.3,326.7 646.9,328.3 648.0,329.8 648.2,331.2 646.0,332.2 645.1,332.1 645.0,330.1 643.9,327.2 643.7,326.3 642.3,327.2 642.4,329.8 642.1,332.5 642.2,334.1 640.1,334.1 640.0,331.2 640.4,328.5 638.8,326.7 639.6,324.6 640.1,322.5 641.3,321.1 641.3,319.0 642.2,316.9Z"/>
<path d="M659.2,316.7 660.3,313.5 660.1,315.9 662.0,315.3 660.8,317.2 662.5,318.5 660.4,318.2 661.3,321.7 660.2,319.8 659.5,318.0Z"/>
<path d="M660.0,327.7 662.6,326.7 664.6,327.5 666.7,328.3 664.8,328.5 663.1,328.4 661.3,328.3Z"/>
<path d="M655.6,327.7 657.9,327.5 658.3,328.8 656.2,329.3Z"/>
<path d="M667.1,321.7 670.4,320.4 672.5,320.9 674.6,321.4 674.3,323.3 675.6,326.7 677.2,328.3 679.9,325.1 683.2,323.3 685.5,324.3 687.8,325.4 690.5,326.2 690.4,329.6 690.2,333.0 690.0,336.4 689.7,339.9 689.4,343.3 687.1,340.7 684.5,341.4 681.9,341.4 684.2,338.5 684.6,336.7 683.1,334.1 680.9,332.7 678.6,331.4 675.7,330.1 672.7,329.8 671.3,329.8 671.4,328.0 669.5,326.9 671.3,326.6 673.1,326.2 672.9,325.1 670.1,325.1 667.3,323.0Z"/>
<path d="M692.4,347.5 693.3,350.3 694.0,353.0 694.1,355.2 694.1,357.3 695.7,358.1 697.3,358.8 697.4,361.4 697.5,363.9 697.6,366.4 697.6,368.9 699.6,370.6 701.5,372.3 702.9,374.9 704.3,377.0 705.6,379.1 705.3,381.3 706.6,383.0 707.8,384.7 708.5,387.6 707.9,389.6 707.2,391.5 707.1,394.8 705.5,397.3 703.8,399.7 702.3,402.0 700.7,404.2 698.3,406.0 696.0,408.5 693.0,411.8 691.0,414.2 689.0,416.6 688.0,418.2 685.6,418.7 683.2,419.2 680.6,420.8 677.9,422.4 675.9,420.5 675.4,420.3 672.0,421.7 670.8,421.0 669.5,420.4 666.9,419.6 666.5,416.6 667.2,413.9 665.6,413.2 666.5,411.3 666.5,409.5 664.6,411.8 662.8,412.2 665.3,408.9 667.9,405.2 665.2,407.9 661.4,410.5 660.1,411.3 659.7,408.8 659.2,406.3 659.1,403.9 656.6,403.1 654.2,402.3 651.6,402.6 649.1,402.9 646.7,403.4 644.2,403.9 641.8,404.5 639.2,405.4 636.7,406.3 634.0,407.5 631.3,408.7 629.1,408.7 626.9,408.8 624.1,410.2 621.4,411.6 619.2,411.4 617.1,411.3 615.7,409.9 616.2,407.8 617.9,407.1 619.4,403.7 619.3,401.4 619.2,399.2 619.3,397.2 619.4,395.2 619.0,391.8 618.3,388.4 620.0,387.1 619.8,384.9 620.8,381.3 621.4,379.0 622.0,376.8 622.7,378.4 625.8,376.0 629.2,373.6 631.3,373.2 633.4,372.8 636.8,371.8 638.8,370.3 640.8,368.9 642.8,366.8 644.2,363.6 646.3,364.9 647.7,362.3 650.4,359.6 653.1,356.7 655.3,355.7 657.7,358.6 659.8,358.6 661.5,356.2 663.7,353.3 664.9,352.1 668.4,351.2 667.7,349.1 669.5,349.8 671.3,350.4 673.3,350.9 675.3,351.5 678.5,351.5 676.5,354.4 676.0,356.7 674.7,358.8 677.1,361.2 679.7,363.1 682.3,365.2 684.0,365.3 685.7,365.4 686.8,363.5 687.9,361.5 688.4,359.5 689.0,357.5 689.4,355.0 689.7,352.5 690.6,350.4 691.4,348.3Z"/>
<path d="M671.8,426.5 673.1,427.1 674.4,427.7 676.2,427.3 679.1,427.1 676.9,430.5 674.3,433.1 671.7,434.1 669.7,433.9 669.9,431.8 670.7,428.6Z"/>
<path d="M742.3,410.1 742.8,411.6 744.5,412.4 743.8,415.3 744.8,415.8 744.2,418.4 746.1,419.2 748.8,418.3 749.7,418.7 745.8,422.4 743.3,423.1 741.2,425.8 738.3,427.3 735.4,428.9 734.7,428.1 738.0,425.2 737.4,423.9 736.6,422.9 739.3,421.6 741.9,417.9 742.3,415.5 742.0,412.1Z"/>
<path d="M732.0,426.0 731.3,428.1 734.1,427.9 730.8,430.7 726.6,433.3 726.1,434.8 723.7,435.3 721.3,435.9 719.0,438.0 716.6,440.1 712.9,441.9 710.2,441.9 709.4,440.9 707.9,440.1 713.4,436.7 716.8,435.0 719.6,433.8 722.4,432.6 726.1,429.9 729.6,427.3Z"/>
<path d="M547.3,293.7 548.5,294.3 550.8,296.9 552.3,299.5 552.1,301.9 550.6,303.2 548.7,303.5 547.8,301.1 547.4,297.7 547.9,295.6Z"/>
<path d="M389.3,219.7 391.1,218.6 393.7,219.0 396.0,218.3 395.1,220.7 395.3,222.6 393.9,222.3 391.9,221.0 389.9,220.2Z"/>
<path d="M379.8,211.5 381.9,210.6 383.2,212.3 383.0,216.0 381.7,216.5 380.4,216.2 380.5,213.9Z"/>
<path d="M380.5,207.6 382.2,206.0 382.6,208.4 381.9,210.2 381.0,209.7Z"/>
<path d="M413.9,226.2 415.3,225.3 417.0,225.7 418.6,226.1 420.0,226.5 418.3,227.2 416.5,227.2 414.1,226.5Z"/>
<path d="M433.2,226.9 434.5,226.0 436.3,225.6 438.0,225.2 436.7,227.0 434.9,228.1 433.5,227.7Z"/>
<path d="M383.8,173.6 385.1,173.0 386.6,172.7 386.7,173.9 385.9,174.9 385.6,175.5 384.0,174.9Z"/>
<path d="M382.1,309.5 383.0,309.5 382.5,310.7Z"/>
<path d="M307.4,279.5 308.2,279.2 308.1,279.9Z"/>
<path d="M304.1,274.2 304.8,274.1 304.7,274.6Z"/>
<path d="M309.5,276.7 310.0,276.7 309.8,277.1Z"/>
<path d="M493.6,372.3 494.4,372.4 494.0,373.2Z"/>
<path d="M488.6,374.7 489.5,374.5 489.2,375.5Z"/>
<path d="M450.8,209.9 450.9,209.6 450.7,208.3 448.9,206.0 446.6,205.0 449.3,205.3 451.9,205.5 454.2,206.2 456.4,206.8 458.7,207.9 461.0,208.9 461.6,211.1 459.9,210.8 458.2,210.5 456.6,210.7 455.1,211.0 453.0,209.7Z"/>
<path d="M441.0,195.4 439.7,195.5 438.3,196.3 435.6,197.4 434.9,198.0 435.8,199.9 438.2,199.8 438.2,200.7 436.2,200.9 434.3,202.0 433.0,202.4 432.4,201.9 432.2,200.3 430.0,199.9 432.0,198.3 429.7,198.0 428.3,196.8 425.9,197.0 425.0,198.7 424.0,199.8 422.7,200.1 421.0,199.6 422.4,198.3 422.1,197.1 424.6,197.2 424.2,196.7 421.9,193.2 419.1,192.0 416.7,192.5 415.1,193.1 413.4,193.8 411.3,193.5 409.2,193.2 407.6,192.1 408.2,190.3 408.3,189.0 409.9,187.0 410.7,185.8 409.6,184.2 410.8,183.5 413.7,183.7 416.6,183.9 418.3,184.1 419.9,184.3 421.7,184.5 423.5,184.7 423.8,182.8 425.5,182.7 427.5,182.3 429.4,182.0 431.7,184.5 434.1,187.0 436.0,187.0 437.9,187.1 440.4,188.1 443.0,189.0 444.0,190.9 443.7,193.5 442.4,194.5Z"/>
<path d="M424.0,199.8 424.3,201.2 422.4,203.0 422.4,204.1 420.7,203.6 418.9,203.1 417.3,203.7 415.7,204.4 413.2,204.2 410.6,204.0 409.8,202.9 409.3,201.6 407.0,201.4 407.1,200.3 405.5,198.9 404.3,198.0 406.2,197.2 407.5,194.4 409.2,193.2 411.3,193.5 413.4,193.8 415.1,193.1 416.7,192.5 419.1,194.9 420.6,197.0 421.0,199.6 422.7,200.1Z"/>
<path d="M422.4,204.1 422.6,205.0 421.2,205.5 421.3,206.8 420.5,207.4 421.8,208.7 420.2,208.4 418.4,209.4 416.2,210.6 414.5,209.8 412.8,210.1 411.2,210.4 409.7,207.8 410.8,205.5 409.3,203.4 409.8,202.9 410.6,204.0 413.2,204.2 415.7,204.4 417.3,203.7 418.9,203.1 420.7,203.6Z"/>
<path d="M474.4,209.4 472.7,206.6 470.0,204.5 467.7,202.7 469.4,200.9 471.3,200.5 473.1,200.1 472.4,198.1 471.7,196.1 469.6,196.0 467.5,195.9 465.7,196.5 464.0,197.1 463.5,196.5 461.2,193.9 458.6,193.1 457.6,190.8 459.2,189.5 460.8,188.2 460.5,186.5 462.1,185.0 463.7,183.5 465.3,183.6 466.9,183.7 469.3,184.6 471.7,185.4 474.4,186.5 476.8,185.8 479.2,185.2 482.3,186.6 484.0,185.8 485.7,184.9 483.8,183.9 481.8,182.9 482.9,181.6 484.0,180.4 482.3,178.0 484.8,177.6 487.3,177.3 489.7,176.9 491.8,176.0 493.9,175.2 496.0,174.4 497.9,174.5 499.8,174.6 501.7,177.4 503.9,177.6 506.2,177.9 507.9,178.9 510.1,178.4 512.3,177.9 515.9,179.6 519.5,182.8 523.1,186.0 525.0,185.8 526.9,185.6 528.9,185.4 531.9,187.2 535.0,189.0 537.1,189.3 540.0,190.3 538.8,191.2 537.6,192.1 538.5,195.6 535.9,195.4 533.2,195.2 533.8,197.7 534.3,200.3 532.6,200.5 530.8,200.6 531.3,203.1 531.7,205.5 532.5,208.1 529.6,206.7 527.2,206.6 524.7,206.5 522.3,206.4 519.0,205.5 517.6,206.3 515.2,206.5 512.9,206.7 512.8,208.0 511.2,209.4 509.4,210.4 507.9,211.8 507.4,211.0 504.6,210.9 502.5,208.7 501.9,206.0 498.8,204.2 495.8,204.5 492.9,204.7 490.1,202.7 487.1,201.0 484.0,199.4 481.6,200.1 479.1,200.9 480.0,204.1 480.8,207.3 481.6,210.5 478.7,208.7 476.7,208.5 474.8,208.4Z"/>
<path d="M479.5,220.8 478.7,217.0 477.7,215.7 475.6,213.9 475.2,211.0 474.4,209.4 474.8,208.4 476.7,208.5 478.7,208.7 481.6,210.5 483.8,210.5 485.0,208.7 486.3,206.8 489.6,208.1 490.4,210.2 492.3,210.5 494.3,210.7 496.2,213.9 498.5,215.2 500.8,216.5 503.6,217.8 506.4,219.1 506.9,220.8 504.9,221.0 503.4,222.0 503.1,223.6 500.3,224.8 499.0,226.6 496.4,225.4 495.5,222.8 493.8,222.7 491.1,220.4 488.7,219.5 486.3,218.5 484.3,218.9 482.3,219.0 481.4,220.6Z"/>
<path d="M465.6,209.0 468.2,212.2 470.2,213.0 468.4,213.4 467.5,215.7 468.1,218.0 465.9,217.0 466.3,215.5 465.3,214.7 462.8,216.8 462.5,215.2 460.9,213.4 459.8,211.8 458.2,210.5 459.9,210.8 461.6,211.1 461.0,208.9 463.1,210.5 464.5,210.7Z"/>
<path d="M238.7,386.8 237.5,389.0 236.3,391.3 233.9,391.8 232.1,391.5 230.3,391.3 231.1,388.6 231.9,386.0 228.5,384.2 226.1,383.1 223.7,382.0 221.6,380.0 219.6,378.0 219.7,375.7 219.9,373.3 220.9,371.1 223.9,370.6 226.9,370.2 229.1,371.5 229.3,372.4 229.9,375.0 230.5,377.6 232.6,377.8 234.7,378.1 235.7,378.9 236.5,382.6 239.0,382.7 238.9,384.7Z"/>
<path d="M441.5,233.0 443.9,234.1 446.0,232.7 448.0,231.3 449.3,234.5 448.9,234.9 446.8,235.6 444.6,236.3 447.1,238.9 446.1,240.2 443.2,242.3 440.7,241.5 441.0,238.9 441.3,236.3 441.1,233.9Z"/>
<path d="M498.4,240.6 500.1,238.1 499.6,236.5 497.7,236.3 496.8,233.4 495.9,230.5 496.5,228.3 496.4,225.4 499.0,226.6 500.3,224.8 503.1,223.6 503.4,222.0 504.9,221.0 506.9,220.8 509.8,221.3 510.3,221.8 513.1,221.5 514.7,220.2 517.3,219.4 518.4,222.6 520.0,221.6 521.5,220.6 523.4,220.8 525.2,221.1 524.7,221.6 522.5,222.0 520.3,222.3 517.9,224.1 519.2,225.7 518.8,228.7 516.4,229.7 517.6,231.2 516.0,232.0 516.3,235.2 514.7,235.9 513.2,236.5 510.8,237.0 510.6,240.5 508.1,241.0 505.6,241.5 504.0,241.7 502.3,241.8 500.4,241.2Z"/>
<path d="M525.2,221.1 523.4,220.8 521.5,220.6 520.0,221.6 518.4,222.6 517.3,219.4 514.7,220.2 513.1,221.5 510.3,221.8 509.8,221.3 510.4,218.6 507.3,215.2 509.7,213.6 510.7,211.9 513.4,211.7 513.7,213.4 511.6,215.1 514.4,215.2 517.3,215.6 519.1,215.5 520.8,215.3 521.8,217.6 524.2,218.0Z"/>
<path d="M509.8,221.3 506.9,220.8 506.4,219.1 503.6,217.8 500.8,216.5 498.5,215.2 496.2,213.9 494.3,210.7 492.3,210.5 490.4,210.2 489.6,208.1 486.3,206.8 485.0,208.7 483.8,210.5 481.6,210.5 480.8,207.3 480.0,204.1 479.1,200.9 481.6,200.1 484.0,199.4 487.1,201.0 490.1,202.7 492.9,204.7 495.8,204.5 498.8,204.2 501.9,206.0 502.5,208.7 504.6,210.9 507.4,211.0 507.9,211.8 509.4,210.4 511.2,209.4 512.8,208.0 514.7,210.5 516.6,211.1 518.5,211.7 516.7,213.4 513.7,213.4 513.4,211.7 510.7,211.9 509.7,213.6 507.3,215.2 510.4,218.6Z"/>
<path d="M512.8,208.0 512.9,206.7 515.2,206.5 517.6,206.3 519.0,205.5 522.3,206.4 524.7,206.5 527.2,206.6 529.6,206.7 532.5,208.1 530.9,209.6 529.2,211.0 526.3,211.4 524.1,212.6 522.6,213.1 521.0,213.6 520.8,215.3 519.1,215.5 517.3,215.6 514.4,215.2 511.6,215.1 513.7,213.4 516.7,213.4 518.5,211.7 516.6,211.1 514.7,210.5Z"/>
<path d="M540.8,190.1 542.3,189.2 543.7,188.2 545.5,187.1 547.2,186.0 550.2,187.0 553.3,188.0 556.3,188.3 559.3,188.6 560.3,186.7 558.2,184.2 559.8,183.5 561.3,182.9 564.1,183.8 566.9,184.7 568.2,186.5 571.1,186.7 573.9,187.0 576.2,187.5 578.6,188.0 580.6,188.8 582.6,189.6 585.0,189.9 587.4,190.2 589.4,189.6 591.3,189.0 592.9,187.4 595.7,187.9 598.4,188.4 598.9,190.9 599.3,193.4 601.7,193.4 604.2,193.4 607.1,194.9 610.0,196.5 607.9,196.8 605.8,197.1 603.8,197.5 602.8,198.7 601.7,199.8 599.8,201.5 597.7,201.2 595.6,200.9 597.7,204.2 596.4,205.6 595.1,207.0 592.6,207.3 590.1,207.6 587.9,208.7 585.8,209.7 583.1,208.9 580.5,208.1 577.9,207.4 575.9,207.2 573.9,207.0 571.3,206.9 568.7,206.8 566.2,206.7 564.2,204.7 562.2,202.7 559.9,201.8 557.5,201.0 554.6,200.7 551.8,200.3 550.4,196.7 546.8,193.4 544.3,192.5 541.9,191.6Z"/>
<path d="M560.6,245.7 560.9,247.7 561.3,249.7 558.6,249.4 556.0,249.2 553.0,248.2 550.0,247.2 547.3,245.9 544.7,244.6 542.0,243.2 543.3,239.7 546.0,239.9 548.6,241.6 551.2,243.2 553.5,244.4 555.7,245.6 558.2,245.7Z"/>
<path d="M568.6,246.1 570.1,248.5 567.7,248.6 565.4,248.6 563.1,248.6 562.6,247.3 563.5,245.2 566.0,245.7Z"/>
<path d="M413.7,173.7 415.6,173.4 416.5,172.5 419.0,173.0 420.7,173.7 422.4,174.4 422.3,175.9 424.4,177.4 426.4,178.9 424.1,180.1 425.5,182.7 423.8,182.8 423.5,184.7 421.7,184.5 419.9,184.3 418.3,184.1 416.6,183.9 413.7,183.7 410.8,183.5 409.6,184.2 408.4,182.2 409.6,181.1 409.5,180.4 408.4,178.0 410.2,178.1 412.3,177.1 412.5,175.6 414.3,174.6Z"/>
<path d="M400.5,189.2 401.8,189.0 403.2,190.0 404.6,189.7 406.1,189.4 408.2,190.3 407.6,192.1 404.8,191.7 403.0,192.7 400.9,193.6 399.0,193.8 397.4,193.1 396.9,191.6 397.3,190.9 398.9,190.4Z"/>
<path d="M392.0,185.8 392.4,185.4 394.5,186.5 395.1,186.3 396.3,186.8 398.7,187.9 400.5,189.2 398.9,190.4 397.3,190.9 396.9,191.6 395.1,191.2 392.8,190.5 390.5,191.1 388.7,189.8 387.6,188.2 386.7,187.2 388.5,187.0 391.0,185.3Z"/>
<path d="M390.5,191.1 392.8,190.5 395.1,191.2 396.9,191.6 397.4,193.1 397.4,193.9 396.2,194.7 395.5,196.0 393.3,196.7 390.6,196.9 387.9,196.5 387.4,195.6 385.0,196.2 383.9,196.0 382.1,195.6 381.9,194.3 383.9,194.5 385.5,194.7 387.4,194.0 389.0,194.4 388.5,192.7Z"/>
<path d="M397.4,193.1 399.0,193.8 400.9,193.6 403.0,192.7 404.8,191.7 407.6,192.1 409.2,193.2 407.5,194.4 406.2,197.2 404.3,198.0 402.7,197.9 401.5,198.5 399.0,198.4 396.6,197.1 395.5,196.0 396.2,194.7 397.4,193.9Z"/>
<path d="M401.5,198.5 402.7,197.9 404.3,198.0 405.5,198.9 407.1,200.3 407.0,201.4 409.3,201.6 409.8,202.9 409.3,203.4 410.8,205.5 409.7,207.8 408.1,208.0 407.5,206.4 406.2,205.4 405.3,206.4 402.7,204.7 403.3,204.6 402.6,203.6 402.9,202.7 402.1,201.2 402.7,200.3 401.8,199.6Z"/>
<path d="M381.9,194.3 382.1,195.6 383.9,196.0 383.2,197.6 381.5,197.2 381.0,198.7 379.8,197.1 378.7,198.4 376.9,198.4 376.4,197.2 374.7,197.9 374.9,197.2 376.7,194.8 377.9,194.2 379.9,193.8Z"/>
<path d="M375.2,189.3 374.1,189.1 374.2,187.7 374.7,187.7 375.5,188.5Z"/>
<path d="M401.4,207.2 399.6,205.9 398.7,204.9 396.3,202.9 395.2,201.4 395.2,200.3 397.5,200.2 399.8,200.6 402.1,201.2 402.9,202.7 402.6,203.6 403.3,204.6 402.7,204.7 401.7,205.5Z"/>
<path d="M404.8,207.2 405.3,206.4 406.2,205.4 407.5,206.4 408.1,208.0 406.1,209.0Z"/>
<path d="M407.1,211.7 406.0,210.5 406.1,209.0 408.1,208.0 409.7,207.8 411.2,210.4 409.0,211.0Z"/>
<path d="M421.0,199.6 420.6,197.0 419.1,194.9 416.7,192.5 419.1,192.0 421.9,193.2 424.2,196.7 424.6,197.2 422.1,197.1 422.4,198.3Z"/>
<path d="M455.1,211.0 456.6,210.7 458.2,210.5 459.8,211.8 460.9,213.4 462.5,215.2 462.8,216.8 461.9,216.9 460.8,215.1 458.6,214.7 456.0,213.6Z"/>
<path d="M458.6,214.7 460.8,215.1 461.9,216.9 460.4,216.5Z"/>
</g>
<g fill="#bae4bc">
<path d="M324.3,276.9 324.8,274.5 325.6,271.6 325.2,269.2 325.0,266.6 323.4,264.5 323.6,263.1 326.5,263.1 329.5,263.1 332.4,263.1 332.6,260.9 332.7,258.7 335.0,257.5 335.1,254.1 335.2,250.8 337.7,250.8 340.2,250.8 342.7,250.8 342.8,247.3 345.6,249.3 348.5,251.4 351.4,253.4 349.4,253.4 347.4,253.4 347.7,257.0 348.0,260.5 348.3,264.1 348.7,267.7 349.0,271.3 349.3,274.9 349.6,278.4 346.7,278.4 343.8,278.4 340.9,278.4 340.8,277.9 337.6,278.7 335.8,278.2 335.1,280.0 334.0,280.4 332.8,279.0 331.2,276.9 328.9,275.4 326.6,275.7 324.8,275.8Z"/>
<path d="M323.7,283.4 323.5,282.9 323.1,281.3 321.9,280.5 322.9,279.8 324.3,276.9 324.8,275.8 326.6,275.7 328.9,275.4 331.2,276.9 332.8,279.0 334.0,280.4 334.5,283.2 335.9,285.2 335.9,286.6 333.8,286.9 330.6,285.9 328.9,285.9 327.2,285.9 325.4,286.4 323.7,286.9 323.4,286.6 323.5,284.9 323.5,284.7 325.8,284.6 327.2,283.8 328.6,284.4 330.4,284.4 330.4,283.6 329.0,283.4 327.4,282.9 326.5,283.4Z"/>
<path d="M335.6,301.1 333.5,299.8 332.3,298.5 331.7,296.9 331.4,295.4 333.3,293.3 336.3,292.9 337.7,295.4 338.5,296.9 337.7,298.2Z"/>
<path d="M344.7,307.8 341.4,306.4 339.7,304.8 337.2,302.7 335.6,301.1 337.7,298.2 338.5,296.9 340.2,297.2 340.5,299.8 342.6,299.4 343.0,302.4 345.1,303.9 344.9,305.9Z"/>
<path d="M355.1,305.9 353.0,305.5 350.0,305.9 346.9,306.9 344.7,307.8 344.9,305.9 345.1,303.9 343.0,302.4 342.6,299.4 344.4,297.2 343.1,294.3 343.8,292.5 345.9,291.8 347.9,291.1 349.5,291.8 351.6,293.7 354.9,293.2 356.1,294.3 356.0,298.2 354.7,301.9 355.4,304.5Z"/>
<path d="M365.1,303.2 363.9,304.0 361.8,304.7 360.0,305.6 357.4,306.8 355.1,305.9 355.4,304.5 354.7,301.9 356.0,298.2 356.1,294.3 355.9,292.3 355.7,290.3 358.8,290.1 362.0,290.0 362.3,291.4 363.1,292.1 363.2,294.3 363.6,297.4 363.8,299.8 363.6,301.1Z"/>
<path d="M368.6,302.5 367.9,302.6 366.1,302.9 366.1,300.8 366.1,298.2 366.1,295.6 365.5,293.2 364.1,291.9 364.4,290.3 365.5,289.1 367.9,287.9 368.9,286.7 370.6,288.5 371.1,291.4 370.3,293.3 369.5,295.3 368.7,298.7Z"/>
<path d="M382.1,306.8 381.6,307.2 380.0,307.4 378.6,307.7 376.3,308.0 374.9,305.9 373.9,304.0 372.5,302.7 370.2,302.4 368.6,302.5 368.7,298.7 369.5,295.3 370.3,293.3 371.1,291.4 370.6,288.5 371.2,286.1 371.8,283.7 375.0,282.7 376.7,283.8 378.5,285.0 380.8,284.2 382.6,284.9 384.5,285.6 387.0,284.1 389.1,284.4 391.2,284.8 393.7,283.2 394.8,284.8 395.1,286.6 396.1,289.0 394.3,290.3 392.9,294.0 392.0,296.4 390.6,297.2 389.7,300.6 388.1,302.2 386.0,301.1 384.1,302.4 382.9,304.0Z"/>
<path d="M385.1,313.1 385.1,311.4 384.9,309.0 383.0,308.8 383.0,307.4 382.1,306.8 382.9,304.0 384.1,302.4 386.0,301.1 388.1,302.2 389.7,300.6 390.6,297.2 392.0,296.4 392.9,294.0 394.3,290.3 396.1,289.0 395.1,286.6 394.8,284.8 396.8,287.4 397.2,290.3 398.2,293.1 395.2,293.0 394.6,294.0 397.6,296.9 398.3,299.5 396.0,303.2 396.3,306.1 397.4,308.8 398.7,311.1 400.0,313.4 399.8,314.8 397.9,314.2 396.1,313.6 393.3,313.6 391.0,313.6 388.7,313.6 386.9,313.3Z"/>
<path d="M384.7,316.7 384.7,315.1 385.1,313.1 386.9,313.3 388.7,313.6 388.7,316.7 386.7,316.7Z"/>
<path d="M388.1,329.7 386.5,327.7 384.6,325.6 384.0,324.0 382.8,321.1 384.0,320.4 384.0,318.0 384.7,316.7 386.7,316.7 388.7,316.7 388.7,313.6 391.0,313.6 393.3,313.6 393.0,316.0 395.4,315.7 396.1,317.2 394.7,319.3 396.1,320.9 395.8,324.3 394.9,325.9 393.1,325.2 391.4,324.6 389.3,325.6 389.5,327.7Z"/>
<path d="M390.2,332.5 389.7,331.7 388.1,329.7 389.5,327.7 389.3,325.6 391.4,324.6 393.1,325.2 394.9,325.9 395.8,324.3 396.1,320.9 394.7,319.3 396.1,317.2 395.4,315.7 393.0,316.0 393.3,313.6 396.1,313.6 397.9,314.2 399.8,314.8 400.0,313.4 400.9,310.1 403.3,310.1 405.7,310.1 404.4,313.5 404.0,316.7 403.8,318.6 403.5,320.6 401.8,322.9 400.0,325.1 399.7,327.3 399.3,329.6 397.9,330.6 395.8,332.1 393.5,332.2 392.8,331.5 391.1,331.4Z"/>
<path d="M390.7,334.5 390.2,332.5 391.1,331.4 392.8,331.5 392.5,334.7Z"/>
<path d="M389.3,364.8 389.4,363.1 390.4,359.4 390.8,357.1 391.2,354.9 393.3,352.5 394.2,350.4 394.3,347.5 393.4,343.8 392.9,342.5 393.4,341.2 392.0,337.5 390.9,335.3 392.5,334.9 395.3,334.9 398.1,334.9 400.9,334.9 401.6,338.3 403.2,340.7 405.3,340.5 407.3,340.4 407.6,337.8 409.9,337.8 410.1,338.5 412.9,338.5 413.0,340.7 412.9,344.1 414.0,346.7 413.7,348.6 414.5,348.4 416.6,348.2 417.9,348.0 417.8,350.8 417.8,353.6 415.5,353.6 413.1,353.6 413.1,356.4 413.0,359.2 412.9,362.0 416.0,365.7 413.7,366.2 411.4,366.8 410.0,366.8 407.4,366.0 404.7,365.2 401.3,365.2 397.9,365.2 394.5,365.2 393.1,364.0 391.0,364.6Z"/>
<path d="M399.2,394.7 397.8,392.9 396.6,389.7 396.0,386.8 395.2,383.1 395.3,379.7 394.2,377.3 392.9,374.4 391.6,371.2 389.8,367.8 389.3,364.8 391.0,364.6 393.1,364.0 394.5,365.2 397.9,365.2 401.3,365.2 404.7,365.2 407.4,366.0 410.0,366.8 411.4,366.8 413.7,366.2 416.0,365.7 417.9,365.4 420.3,366.2 418.3,366.8 415.8,366.8 413.1,367.2 410.5,367.5 410.4,370.8 410.3,374.0 410.2,377.3 407.9,377.3 407.8,380.9 407.6,384.6 407.5,387.8 407.4,391.0 407.2,394.2 404.9,395.5 403.3,395.2 401.6,395.0Z"/>
<path d="M436.5,390.1 435.6,393.1 433.6,395.5 431.6,398.1 430.4,400.0 428.9,401.6 426.4,404.2 424.0,406.3 421.0,408.3 418.7,408.9 416.9,409.5 413.9,409.2 411.0,409.5 408.5,410.0 406.2,411.0 404.7,410.5 403.7,409.2 403.0,409.9 402.9,408.7 401.9,406.3 402.8,405.5 402.3,403.1 400.9,400.0 400.4,397.3 399.2,394.7 401.6,395.0 403.3,395.2 404.9,395.5 407.2,394.2 407.4,391.0 407.5,387.8 407.6,384.6 408.4,387.3 409.2,390.0 411.3,390.1 413.7,386.5 415.5,386.8 417.3,387.1 420.2,386.8 421.8,384.3 423.4,381.8 426.0,379.4 429.2,377.8 431.4,378.1 433.6,378.4 434.2,380.9 434.8,383.4 434.7,385.5 434.6,387.7 433.1,387.2 431.9,388.9 432.2,391.0 434.3,391.3 434.7,390.1ZM422.7,397.3 423.5,399.2 425.4,400.0 428.1,398.1 428.0,396.0 426.5,394.7 424.4,395.5Z"/>
<path d="M456.0,346.9 456.1,349.6 456.1,351.6 456.1,353.6 456.2,355.7 456.2,357.8 455.9,359.4 454.1,362.0 452.5,362.8 449.6,364.6 447.0,366.5 445.5,368.9 443.9,369.4 441.9,371.6 442.0,373.6 442.8,376.0 443.2,378.1 443.1,380.2 442.9,382.3 441.7,384.2 439.4,384.9 437.0,386.0 436.0,387.7 436.5,390.1 434.7,390.1 434.6,387.7 434.7,385.5 434.8,383.4 434.2,380.9 433.6,378.4 436.2,375.5 437.0,373.5 437.8,371.5 437.2,369.1 438.1,365.4 438.1,363.3 436.2,362.4 434.4,361.5 432.4,360.5 432.4,358.8 435.2,357.9 437.1,357.1 439.0,356.2 440.0,357.5 441.7,357.3 441.9,359.6 441.3,361.0 442.6,363.6 443.4,364.4 443.5,362.0 444.9,361.2 445.1,358.6 444.1,355.9 442.8,354.9 442.7,352.3 442.5,349.8 445.2,349.6 446.8,350.1 449.8,349.4 451.4,349.2 453.3,348.8Z"/>
<path d="M453.5,331.6 453.2,332.5 452.7,333.5 452.5,335.1 453.6,337.4 453.6,339.3 453.8,341.2 454.4,343.8 455.0,345.7 456.0,346.9 453.3,348.8 451.4,349.2 449.8,349.4 446.8,350.1 445.2,349.6 442.5,349.8 442.4,346.2 441.2,344.3 440.0,344.6 438.7,344.1 436.3,343.0 433.7,341.1 432.4,338.5 431.1,335.9 430.9,333.5 430.7,331.0 432.6,330.8 434.0,328.0 433.1,327.2 433.4,325.6 434.1,323.8 433.3,322.1 435.9,322.0 438.6,322.0 441.3,321.9 444.1,323.7 447.0,325.5 449.8,327.2 450.0,328.5 451.8,330.1Z"/>
<path d="M459.0,323.7 457.5,325.4 455.9,326.2 455.6,327.7 454.4,330.0 453.5,331.6 451.8,330.1 450.0,328.5 449.8,327.2 447.0,325.5 444.1,323.7 441.3,321.9 441.2,319.0 441.7,318.2 442.6,316.4 443.7,314.9 443.1,312.9 442.5,310.9 441.4,308.2 442.3,308.2 444.1,307.7 445.9,307.1 448.1,307.6 451.0,309.8 452.9,309.4 454.9,309.0 457.2,308.1 459.8,308.8 457.7,311.9 457.7,315.1 457.8,318.3 457.8,321.5Z"/>
<path d="M462.0,285.8 462.5,286.6 462.0,287.8 460.9,288.8 462.2,288.7 462.4,289.0 461.8,290.3 459.1,290.3 458.9,289.0 460.4,286.4Z"/>
<path d="M599.7,302.7 600.0,303.0 602.0,305.2 602.8,306.6 602.9,309.3 603.9,312.4 605.1,315.6 604.7,315.7 603.3,315.7 600.2,313.5 598.1,311.5 596.3,308.2 595.6,305.1 594.9,302.3 596.9,304.0 597.3,304.3 599.0,304.0 599.6,302.8Z"/>
<path d="M604.2,291.8 602.1,291.4 601.1,290.3 600.5,288.6 599.8,286.0 599.0,283.4 600.0,281.9 602.5,281.7 605.1,281.5 606.0,281.5 606.9,281.5 608.6,281.0 610.4,280.5 610.7,283.6 610.9,286.7 608.6,288.5 607.8,290.3 605.7,290.4Z"/>
<path d="M154.2,283.0 151.7,282.7 149.6,280.9 149.8,279.5 151.1,277.0 154.1,276.9 152.1,273.8 153.2,273.8 153.4,272.3 155.5,272.3 157.6,272.3 157.3,274.9 156.9,277.4 157.6,277.4 158.2,277.8 159.1,277.9 156.8,279.6 156.1,281.3 155.6,281.9Z"/>
<path d="M200.9,367.7 198.4,365.8 196.8,364.1 195.0,363.1 193.1,362.1 191.1,360.9 189.0,359.6 187.5,357.7 186.1,355.7 185.5,353.6 183.8,351.1 182.6,348.3 181.3,345.8 180.0,343.3 178.9,340.7 176.5,337.4 173.8,335.1 174.2,334.6 173.7,332.7 173.1,331.6 173.8,330.1 175.5,328.3 175.8,329.6 175.2,330.9 177.0,331.0 178.6,332.5 179.2,331.4 180.0,328.3 181.2,327.2 183.9,326.2 186.3,323.4 187.1,319.6 189.3,321.7 192.3,324.0 194.1,324.7 195.8,325.4 199.1,326.4 198.7,329.5 199.6,330.4 197.3,330.9 195.0,332.0 192.8,333.0 190.6,336.7 190.9,338.0 190.4,339.1 191.8,341.6 193.2,344.1 194.9,345.7 196.7,345.0 198.6,344.3 198.7,346.3 198.8,348.3 201.2,348.2 202.3,350.2 203.5,352.3 203.0,355.4 202.2,358.3 201.9,359.6 203.5,362.0 202.6,364.6 202.7,365.4Z"/>
<path d="M233.6,409.2 233.9,410.4 235.1,411.0 236.9,412.4 237.0,413.9 238.5,415.1 238.8,416.6 237.6,419.6 234.8,421.2 232.8,421.6 230.7,422.0 228.4,422.1 228.5,424.2 229.2,426.3 227.9,427.7 225.6,427.3 223.3,427.3 224.5,430.2 227.1,430.2 227.8,431.8 224.9,432.0 225.1,434.1 225.7,436.7 225.2,437.7 222.6,438.3 222.3,440.3 224.2,441.9 226.9,443.4 227.1,444.8 226.4,446.5 224.8,448.8 223.9,450.9 223.5,452.9 224.6,454.7 226.4,456.6 224.7,456.1 222.9,455.7 220.9,455.7 218.9,455.7 217.2,453.2 215.2,452.1 213.6,449.3 214.4,447.0 213.7,444.2 213.9,441.9 214.0,439.3 212.6,437.5 211.7,434.9 210.8,432.7 210.0,430.5 209.3,428.5 208.6,426.5 208.2,423.4 208.2,421.4 208.1,419.5 207.7,417.5 207.4,415.5 207.7,412.4 208.5,409.5 207.4,406.3 206.5,404.3 205.7,402.3 206.0,399.4 205.7,397.3 205.5,395.2 206.4,392.6 208.2,390.2 207.6,387.5 207.0,384.7 209.5,382.6 209.9,379.9 209.3,379.4 211.3,376.8 213.7,377.6 215.9,379.4 216.6,377.3 219.6,378.0 221.6,380.0 223.7,382.0 226.1,383.1 228.5,384.2 231.9,386.0 231.1,388.6 230.3,391.3 232.1,391.5 233.9,391.8 236.3,391.3 237.5,389.0 238.7,386.8 240.6,386.8 241.1,388.5 241.0,390.9 238.6,392.7 236.9,394.2 235.3,396.5 233.6,398.9 233.5,402.3 233.3,405.0 233.5,408.7Z"/>
<path d="M226.3,457.3 227.7,458.7 229.5,460.2 232.6,462.0 235.2,462.3 233.0,463.3 231.7,463.7 230.4,464.0 229.8,464.7 229.5,464.7 228.8,463.0 227.6,460.2Z"/>
<path d="M197.6,271.7 195.3,271.4 193.7,271.3 191.5,270.9 193.5,270.5 195.5,270.4 195.7,268.0 194.3,267.2 195.7,266.8 198.1,267.2 198.0,268.9 197.4,270.3Z"/>
<path d="M638.9,270.5 639.7,270.3 642.6,270.7 643.1,273.7 644.0,274.7 642.3,277.4 642.7,280.0 644.4,282.1 645.5,281.6 647.0,282.9 648.4,282.9 649.4,285.3 649.3,286.2 647.3,285.0 645.6,284.5 645.4,282.7 643.3,282.5 642.2,283.4 640.8,282.9 640.5,281.1 641.3,280.5 640.2,280.3 639.2,279.8 638.0,276.3 639.3,277.1 639.0,275.1 638.8,273.2Z"/>
<path d="M640.4,283.7 642.3,284.0 643.2,286.1 642.7,287.1 641.6,285.8Z"/>
<path d="M634.3,297.2 636.0,295.0 638.1,291.9 639.0,289.2 639.7,291.6 637.8,293.7 635.4,296.4Z"/>
<path d="M644.6,287.9 647.2,288.7 647.2,290.3 645.0,291.7 644.6,290.3Z"/>
<path d="M646.1,293.1 647.0,290.6 648.5,290.8 647.9,293.2 648.3,294.8 647.4,295.3Z"/>
<path d="M648.5,294.3 649.0,292.0 649.4,289.8 649.7,291.6Z"/>
<path d="M649.8,286.3 652.0,286.2 653.4,289.8 651.9,290.3 651.7,289.5 651.6,289.5 651.4,288.2Z"/>
<path d="M651.6,289.5 651.8,290.3 651.9,290.3 652.5,292.4 651.6,292.9 651.2,290.8 650.3,289.2Z"/>
<path d="M649.3,293.2 650.9,292.7 651.2,293.7 649.9,294.0Z"/>
<path d="M645.5,300.8 646.0,298.5 648.0,296.6 649.7,297.9 650.8,296.9 651.8,295.6 653.5,295.6 653.3,293.5 655.0,295.0 655.7,297.5 656.4,300.1 655.6,302.7 654.3,301.1 653.7,302.4 654.5,304.5 653.4,304.5 651.0,302.7 650.3,300.1 648.9,299.3 647.5,299.8 646.0,301.1Z"/>
<path d="M617.5,314.0 619.1,314.8 621.2,315.3 621.6,313.0 623.4,312.2 625.1,311.4 627.3,308.0 627.9,307.3 628.9,308.8 630.5,308.0 630.2,305.6 630.6,305.3 632.2,303.2 633.4,301.1 634.6,301.1 635.8,302.4 635.7,303.7 638.1,305.1 639.5,305.6 637.5,308.0 635.9,308.2 633.7,308.1 631.5,308.0 631.3,310.3 630.2,311.9 629.2,315.5 627.1,316.0 625.3,315.7 623.6,315.5 622.7,316.7 619.6,317.1 617.7,315.3Z"/>
<path d="M652.3,342.9 652.3,342.9 654.7,341.7 657.8,341.4 656.0,343.0 654.1,344.0 652.3,345.1 652.5,343.8Z"/>
<path d="M690.5,326.2 692.2,326.9 694.0,327.7 696.2,328.5 698.5,329.3 701.4,332.0 701.8,333.8 703.5,334.5 705.2,335.1 706.0,337.0 704.1,337.2 704.0,338.8 706.4,340.7 707.1,343.0 709.8,345.7 711.8,346.5 709.8,347.2 707.6,346.7 705.3,346.2 703.0,343.8 701.2,340.7 698.3,339.5 695.4,340.9 694.5,343.0 691.7,343.6 689.4,343.3 689.7,339.9 690.0,336.4 690.2,333.0 690.4,329.6Z"/>
<path d="M707.1,334.1 709.9,333.8 712.9,333.8 714.6,332.2 716.4,330.4 716.7,332.2 714.8,334.1 711.8,335.9 709.3,335.6Z"/>
<path d="M713.1,326.2 716.0,328.0 718.2,330.9 717.5,331.7 715.5,329.1 713.1,326.9Z"/>
<path d="M721.8,333.5 723.5,335.1 724.5,337.2 722.9,336.7 721.9,334.9Z"/>
<path d="M746.4,358.8 747.5,360.2 746.6,360.4Z"/>
<path d="M747.3,361.5 748.4,362.8 747.4,362.8Z"/>
<path d="M748.6,365.7 749.2,366.2 748.5,366.2Z"/>
<path d="M769.4,366.0 771.7,365.2 772.5,366.8 770.4,367.5 769.2,367.0Z"/>
<path d="M773.0,363.6 776.4,362.0 775.1,363.6 773.3,364.1Z"/>
<path d="M476.4,350.9 477.6,354.4 477.9,356.6 478.3,358.8 478.4,361.2 477.0,360.2 476.4,363.6 475.7,366.5 474.9,369.3 474.2,372.0 472.9,375.3 471.6,378.6 470.6,381.4 469.6,384.2 467.8,385.7 464.6,386.7 462.4,385.5 461.6,382.3 461.3,380.1 461.0,377.8 461.8,375.5 463.9,372.0 464.0,370.1 464.1,368.1 463.4,364.9 464.7,362.0 467.3,361.2 469.2,360.4 471.4,358.6 472.9,356.5 473.2,354.9 475.1,354.4 475.4,352.0Z"/>
<path d="M462.4,349.4 462.9,349.9 462.7,350.7 462.4,350.3Z"/>
<path d="M464.7,351.3 465.2,351.5 465.0,351.9Z"/>
<path d="M334.0,280.4 335.1,280.0 335.8,278.2 337.6,278.7 340.8,277.9 340.9,278.4 343.8,278.4 346.7,278.4 349.6,278.4 349.3,274.9 349.0,271.3 348.7,267.7 348.3,264.1 348.0,260.5 347.7,257.0 347.4,253.4 349.4,253.4 351.4,253.4 354.7,256.0 358.1,258.5 361.5,261.1 364.9,263.7 366.4,265.8 369.6,267.1 369.9,269.2 372.0,268.8 372.0,271.8 372.0,274.7 371.2,276.8 370.4,278.8 367.8,278.9 365.3,279.0 362.8,280.0 360.7,279.5 360.0,280.3 358.3,281.1 356.5,281.9 354.7,283.2 353.3,284.0 352.1,285.8 350.0,288.2 349.5,291.8 347.9,291.1 345.9,291.8 343.8,292.5 343.1,290.3 341.9,289.0 340.8,286.3 337.5,287.7 335.9,286.6 335.9,285.2 334.5,283.2Z"/>
<path d="M416.0,365.7 412.9,362.0 413.0,359.2 413.1,356.4 413.1,353.6 415.5,353.6 417.8,353.6 417.8,350.8 417.9,348.0 418.8,349.1 420.9,349.1 422.5,350.7 424.8,350.4 425.9,351.7 428.0,352.3 429.3,354.6 431.1,354.8 431.2,351.3 429.4,352.0 428.0,350.4 428.7,347.0 428.6,343.8 429.4,341.7 431.6,341.4 433.7,341.1 436.3,343.0 438.7,344.1 439.5,345.7 439.4,347.8 439.2,350.9 438.5,353.3 438.5,356.1 439.0,356.2 437.1,357.1 435.2,357.9 432.4,358.8 432.4,360.5 429.1,361.4 428.7,362.8 425.7,365.0 423.8,365.8 422.0,366.6 420.3,366.2 417.9,365.4Z"/>
<path d="M430.7,331.0 430.3,328.8 429.9,326.5 431.9,326.4 433.4,325.6 433.1,327.2 434.0,328.0 432.6,330.8Z"/>
<path d="M429.9,326.5 430.4,323.7 431.2,322.9 433.3,322.1 434.1,323.8 433.4,325.6 431.9,326.4Z"/>
<path d="M431.2,322.9 431.2,320.6 432.0,317.2 434.2,313.5 433.9,312.7 434.1,310.1 434.9,309.3 437.2,309.8 439.1,309.1 441.4,308.2 442.5,310.9 443.1,312.9 443.7,314.9 442.6,316.4 441.7,318.2 441.2,319.0 441.3,321.9 438.6,322.0 435.9,322.0 433.3,322.1Z"/>
<path d="M441.4,294.3 441.8,291.4 443.4,290.3 443.5,288.2 445.8,285.8 446.1,283.8 446.4,281.7 449.7,280.0 452.3,280.8 455.1,281.2 456.8,282.7 458.6,284.2 460.4,286.4 458.9,289.0 459.1,290.3 461.8,290.3 461.5,292.1 463.4,294.6 464.4,295.6 466.7,296.5 469.1,297.3 471.4,298.2 473.7,298.2 471.5,300.8 469.2,303.5 467.0,306.1 465.2,306.4 463.5,306.6 461.7,307.7 460.0,308.8 459.8,308.8 457.2,308.1 454.9,309.0 452.9,309.4 451.0,309.8 448.1,307.6 445.9,307.1 444.4,304.9 442.9,301.6 440.6,299.0 438.9,298.5 439.4,297.2 441.4,296.6Z"/>
<path d="M438.7,344.1 440.0,344.6 441.2,344.3 442.4,346.2 442.5,349.8 442.7,352.3 442.8,354.9 444.1,355.9 445.1,358.6 444.9,361.2 443.5,362.0 443.4,364.4 442.6,363.6 441.3,361.0 441.9,359.6 441.7,357.3 440.0,357.5 439.0,356.2 438.5,356.1 438.5,353.3 439.2,350.9 439.4,347.8 439.5,345.7Z"/>
<path d="M407.6,384.6 407.8,380.9 407.9,377.3 410.2,377.3 410.3,374.0 410.4,370.8 410.5,367.5 413.1,367.2 415.8,366.8 418.3,366.8 420.3,366.2 422.3,369.4 424.0,371.4 425.6,373.3 426.2,376.0 429.2,377.8 426.0,379.4 423.4,381.8 421.8,384.3 420.2,386.8 417.3,387.1 415.5,386.8 413.7,386.5 411.3,390.1 409.2,390.0 408.4,387.3Z"/>
<path d="M434.7,390.1 434.3,391.3 432.2,391.0 431.9,388.9 433.1,387.2 434.6,387.7Z"/>
<path d="M202.7,365.4 202.6,364.6 203.5,362.0 201.9,359.6 202.2,358.3 203.0,355.4 203.5,352.3 202.3,350.2 201.2,348.2 204.1,348.3 206.0,346.9 207.9,345.4 210.8,344.9 210.9,347.2 211.1,349.6 213.4,352.1 215.3,352.8 217.2,353.6 219.3,354.2 221.4,354.9 222.6,355.7 223.3,358.9 224.0,362.1 226.0,362.2 228.0,362.3 228.1,364.9 230.3,366.8 229.9,369.4 229.3,372.4 229.1,371.5 226.9,370.2 223.9,370.6 220.9,371.1 219.9,373.3 219.7,375.7 219.6,378.0 216.6,377.3 215.9,379.4 213.7,377.6 211.3,376.8 209.3,379.4 207.9,379.5 206.7,376.0 205.1,373.1 205.6,371.8 204.4,369.4 203.6,367.4Z"/>
<path d="M593.1,262.5 594.5,263.5 595.0,260.2 597.0,262.1 599.6,264.5 602.1,265.8 600.4,268.2 603.5,270.0 605.3,272.3 607.2,274.6 609.7,278.2 610.4,280.5 608.6,281.0 606.9,281.5 606.0,281.5 605.3,277.6 603.3,275.8 602.8,273.2 599.5,270.8 596.6,271.3 594.3,272.9 594.1,270.4 594.0,267.9 592.4,267.9 591.1,265.6Z"/>
</g>
<g fill="#7bccc4">
<path d="M323.5,284.7 323.7,283.7 323.7,283.4 326.5,283.4 327.4,282.9 329.0,283.4 330.4,283.6 330.4,284.4 328.6,284.4 327.2,283.8 325.8,284.6Z"/>
<path d="M327.6,290.4 326.2,289.0 325.0,287.9 323.7,286.9 325.4,286.4 327.2,285.9 328.9,285.9 330.6,285.9 330.6,288.5 328.3,289.0Z"/>
<path d="M331.4,295.4 330.5,294.3 328.5,291.9 327.6,290.4 328.3,289.0 330.6,288.5 330.6,285.9 333.8,286.9 335.9,286.6 337.5,287.7 340.8,286.3 341.9,289.0 343.1,290.3 343.8,292.5 343.1,294.3 344.4,297.2 342.6,299.4 340.5,299.8 340.2,297.2 338.5,296.9 337.7,295.4 336.3,292.9 333.3,293.3Z"/>
<path d="M366.1,302.9 365.1,303.2 363.6,301.1 363.8,299.8 363.6,297.4 363.2,294.3 363.1,292.1 362.3,291.4 362.0,290.0 364.4,290.3 364.1,291.9 365.5,293.2 366.1,295.6 366.1,298.2 366.1,300.8Z"/>
<path d="M390.9,335.3 390.7,334.5 392.5,334.7 392.8,331.5 393.5,332.2 395.8,332.1 397.9,330.6 399.3,329.6 399.7,327.3 400.0,325.1 401.8,322.9 403.5,320.6 403.8,318.6 404.0,316.7 404.4,313.5 405.7,310.1 405.5,307.8 406.5,306.6 408.6,306.1 411.4,308.0 414.4,308.4 415.6,306.6 417.3,306.2 419.0,305.9 421.1,306.1 423.6,306.1 426.1,306.1 428.4,308.0 431.2,307.4 434.1,310.1 433.9,312.7 434.2,313.5 432.0,317.2 431.2,320.6 431.2,322.9 430.4,323.7 429.9,326.5 430.3,328.8 430.7,331.0 430.9,333.5 431.1,335.9 432.4,338.5 433.7,341.1 431.6,341.4 429.4,341.7 428.6,343.8 428.7,347.0 428.0,350.4 429.4,352.0 431.2,351.3 431.1,354.8 429.3,354.6 428.0,352.3 425.9,351.7 424.8,350.4 422.5,350.7 420.9,349.1 418.8,349.1 417.9,348.0 416.6,348.2 414.5,348.4 413.7,348.6 414.0,346.7 412.9,344.1 413.0,340.7 412.9,338.5 410.1,338.5 409.9,337.8 407.6,337.8 407.3,340.4 405.3,340.5 403.2,340.7 401.6,338.3 400.9,334.9 398.1,334.9 395.3,334.9 392.5,334.9Z"/>
<path d="M462.4,289.0 463.0,289.8 464.7,291.6 466.6,291.7 468.9,290.8 471.1,290.0 473.5,289.8 476.2,289.5 479.2,287.8 481.0,288.1 480.6,289.8 480.0,292.1 479.2,295.0 477.9,298.7 477.2,300.7 476.4,302.7 475.1,305.1 473.7,307.7 471.4,310.3 469.7,312.1 467.9,313.9 464.8,316.4 463.0,318.4 461.3,320.4 459.0,323.7 457.8,321.5 457.8,318.3 457.7,315.1 457.7,311.9 459.8,308.8 460.0,308.8 461.7,307.7 463.5,306.6 465.2,306.4 467.0,306.1 469.2,303.5 471.5,300.8 473.7,298.2 471.4,298.2 469.1,297.3 466.7,296.5 464.4,295.6 463.4,294.6 461.5,292.1 461.8,290.3Z"/>
<path d="M450.9,271.8 451.7,273.7 452.5,276.1 453.2,278.2 454.2,278.7 455.7,280.0 457.4,281.1 459.3,282.9 461.0,285.0 462.0,285.8 460.4,286.4 458.6,284.2 456.8,282.7 455.1,281.2 452.3,280.8 449.7,280.0 446.4,281.7 446.6,279.5 446.9,277.3 447.3,275.1 448.3,274.3 449.6,273.0Z"/>
<path d="M732.5,343.8 734.3,344.1 735.1,345.3 732.8,345.1Z"/>
<path d="M735.1,341.4 736.4,344.1 735.6,343.0Z"/>
<path d="M730.4,339.3 733.2,341.4 731.9,340.9Z"/>
<path d="M725.9,337.0 728.1,338.5 727.0,338.3Z"/>
<path d="M727.3,340.7 728.8,341.7 727.8,342.0Z"/>
<path d="M736.1,346.5 738.3,347.5 736.9,347.5Z"/>
<path d="M356.1,294.3 354.9,293.2 351.6,293.7 349.5,291.8 350.0,288.2 352.1,285.8 353.3,284.0 354.7,283.2 356.5,281.9 358.3,281.1 360.0,280.3 360.7,279.5 362.8,280.0 363.2,282.4 364.6,283.6 364.6,284.9 367.2,285.8 367.9,287.9 365.5,289.1 364.4,290.3 362.0,290.0 358.8,290.1 355.7,290.3 355.9,292.3Z"/>
<path d="M362.8,280.0 365.3,279.0 367.8,278.9 370.4,278.8 371.2,276.8 372.0,274.7 372.0,271.8 372.0,268.8 373.8,268.4 375.6,268.0 377.5,266.2 379.3,264.3 381.9,262.6 384.4,260.8 387.0,259.1 389.5,257.3 392.1,258.5 394.6,259.7 396.4,258.7 396.6,260.9 396.8,263.1 397.9,264.7 397.9,267.0 397.9,269.2 397.9,272.0 397.9,274.7 395.5,277.9 393.7,281.1 393.7,283.2 391.2,284.8 389.1,284.4 387.0,284.1 384.5,285.6 382.6,284.9 380.8,284.2 378.5,285.0 376.7,283.8 375.0,282.7 371.8,283.7 371.2,286.1 370.6,288.5 368.9,286.7 367.9,287.9 367.2,285.8 364.6,284.9 364.6,283.6 363.2,282.4Z"/>
<path d="M396.4,258.7 399.4,260.0 402.4,261.3 405.3,262.6 408.3,263.9 411.3,265.3 414.3,266.6 417.2,267.9 417.4,271.2 417.5,274.6 417.6,277.9 415.3,277.9 414.8,279.9 414.2,281.9 414.0,282.7 412.9,285.9 413.6,285.8 414.5,288.2 415.3,290.5 412.6,291.4 411.1,293.3 409.6,295.3 406.4,295.6 404.1,298.2 400.8,299.0 398.3,299.5 397.6,296.9 394.6,294.0 395.2,293.0 398.2,293.1 397.2,290.3 396.8,287.4 394.8,284.8 393.7,283.2 393.7,281.1 395.5,277.9 397.9,274.7 397.9,272.0 397.9,269.2 397.9,267.0 397.9,264.7 396.8,263.1 396.6,260.9Z"/>
<path d="M434.1,310.1 431.2,307.4 428.4,308.0 426.1,306.1 423.7,302.7 420.8,299.3 418.5,296.6 420.0,293.5 422.3,291.9 424.0,294.3 427.2,294.6 429.3,293.9 430.9,292.7 433.7,293.6 435.5,291.0 437.3,288.5 437.2,287.7 439.1,287.1 439.0,289.1 439.0,291.1 440.9,294.3 441.4,294.3 441.4,296.6 439.4,297.2 438.9,298.5 440.6,299.0 442.9,301.6 444.4,304.9 445.9,307.1 444.1,307.7 442.3,308.2 441.4,308.2 439.1,309.1 437.2,309.8 434.9,309.3Z"/>
<path d="M420.3,366.2 422.0,366.6 423.8,365.8 425.7,365.0 428.7,362.8 429.1,361.4 432.4,360.5 434.4,361.5 436.2,362.4 438.1,363.3 438.1,365.4 437.2,369.1 437.8,371.5 437.0,373.5 436.2,375.5 433.6,378.4 431.4,378.1 429.2,377.8 426.2,376.0 425.6,373.3 424.0,371.4 422.3,369.4Z"/>
<path d="M422.7,397.3 424.4,395.5 426.5,394.7 428.0,396.0 428.1,398.1 425.4,400.0 423.5,399.2Z"/>
</g>
<g fill="#43a2ca">
<path d="M400.0,313.4 398.7,311.1 397.4,308.8 396.3,306.1 396.0,303.2 398.3,299.5 400.8,299.0 404.1,298.2 406.4,295.6 409.6,295.3 411.1,293.3 412.6,291.4 415.3,290.5 417.0,293.2 416.8,295.6 418.5,296.6 420.8,299.3 423.7,302.7 426.1,306.1 423.6,306.1 421.1,306.1 419.0,305.9 417.3,306.2 415.6,306.6 414.4,308.4 411.4,308.0 408.6,306.1 406.5,306.6 405.5,307.8 405.7,310.1 403.3,310.1 400.9,310.1Z"/>
</g>
<g fill="url(#hatch)">
<path d="M323.6,263.1 323.8,261.8 325.4,259.2 326.2,256.6 328.5,253.4 329.5,250.5 331.6,248.9 332.6,246.4 335.1,246.4 337.7,246.4 340.2,246.4 342.8,246.4 342.8,247.3 342.7,250.8 340.2,250.8 337.7,250.8 335.2,250.8 335.1,254.1 335.0,257.5 332.7,258.7 332.6,260.9 332.4,263.1 329.5,263.1 326.5,263.1Z"/>
<path d="M236.8,304.1 239.1,304.8 240.7,306.4 242.1,308.2 241.0,310.5 239.9,312.7 238.9,313.5 237.0,313.3 235.2,313.2 236.2,310.3 235.6,307.2Z"/>
<path d="M737.4,372.3 738.8,373.5 740.2,374.7 741.5,376.4 742.8,378.1 741.4,378.1 738.8,375.7 737.5,373.6Z"/>
</g>
</g>
<g id="legend">
<rect x="245" y="518.5" width="48" height="10" fill="url(#hatch)" stroke="#cfcfcf" stroke-width="1"/>
<rect x="312" y="518.5" width="58.5" height="10" fill="#f0f9e8"/>
<rect x="370.5" y="518.5" width="59" height="10" fill="#bae4bc"/>
<rect x="429.5" y="518.5" width="58.5" height="10" fill="#7bccc4"/>
<rect x="488" y="518.5" width="58.5" height="10" fill="#43a2ca"/>
<path d="M546.5,518.5H599L605,523.500L599,528.5H546.5Z" fill="#0868ac"/>
<path d="M312.5,518.500H370.5M312.500,528.5H370.5" stroke="#d4d4d4" stroke-width="0.8" fill="none"/>
<path d="M312.400,513.5V528.5M370.400,513.5V528.5M429.400,513.5V528.5M487.800,513.5V528.5M546.400,513.5V528.5" stroke="#8a8a8a" stroke-width="0.7" fill="none"/>
<path d="M268.400,515.5V518.5" stroke="#a8a8a8" stroke-width="0.8" fill="none"/>
</g>
</svg>
<div id="title">Death rate from pneumonia, 2021</div>
<div id="sub">The estimated annual death rate from pneumonia and other lower respiratory tract infections per 100,000<br>people.</div>
<div id="logo">Our World<br>in Data</div>
<div class="leg" style="left:238.5px;font-size:13.6px;">No data</div>
<div class="leg" style="left:282.4px;">0</div>
<div class="leg" style="left:341.2px;">50</div>
<div class="leg" style="left:400px;">100</div>
<div class="leg" style="left:458.700px;">150</div>
<div class="leg" style="left:517.1px;">200</div>
<div class="foot" style="top:549px;"><b>Data source:</b> IHME, Global Burden of Disease (2024)</div>
<div class="foot" style="top:568px;letter-spacing:0.175px;"><b>Note:</b> To allow for comparisons between countries and over time, this metric is age-standardized.</div>
<div class="foot" style="top:549px;left:auto;right:19.500px;">pneumonia | CC BY</div>
</body></html>
